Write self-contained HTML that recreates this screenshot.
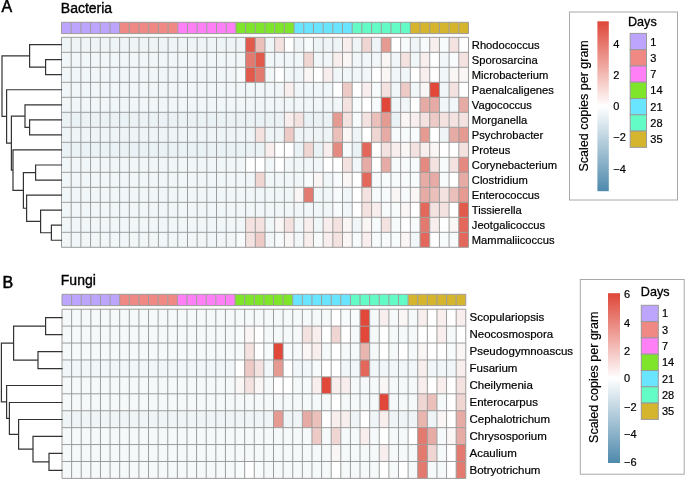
<!DOCTYPE html>
<html><head><meta charset="utf-8"><title>Heatmap</title>
<style>
html,body{margin:0;padding:0;background:#fff;}
body{width:685px;height:480px;overflow:hidden;}
svg{display:block;font-family:"Liberation Sans",sans-serif;fill:#111;will-change:transform;}
text{fill:#000;stroke:#000;stroke-width:0.2px;}
</style></head><body>
<svg width="685" height="480" viewBox="0 0 685 480">
<rect width="685" height="480" fill="#fff"/>
<text x="1.6" y="12.3" font-size="16" style="stroke-width:0.5px">A</text>
<text x="60.8" y="12.5" font-size="14" style="stroke-width:0.35px">Bacteria</text>
<rect x="61.50" y="22.30" width="9.69" height="11.30" fill="#BDA5FD"/>
<rect x="71.19" y="22.30" width="9.69" height="11.30" fill="#BDA5FD"/>
<rect x="80.88" y="22.30" width="9.69" height="11.30" fill="#BDA5FD"/>
<rect x="90.57" y="22.30" width="9.69" height="11.30" fill="#BDA5FD"/>
<rect x="100.26" y="22.30" width="9.69" height="11.30" fill="#BDA5FD"/>
<rect x="109.95" y="22.30" width="9.69" height="11.30" fill="#BDA5FD"/>
<rect x="119.64" y="22.30" width="9.69" height="11.30" fill="#F08884"/>
<rect x="129.33" y="22.30" width="9.69" height="11.30" fill="#F08884"/>
<rect x="139.02" y="22.30" width="9.69" height="11.30" fill="#F08884"/>
<rect x="148.71" y="22.30" width="9.69" height="11.30" fill="#F08884"/>
<rect x="158.40" y="22.30" width="9.69" height="11.30" fill="#F08884"/>
<rect x="168.09" y="22.30" width="9.69" height="11.30" fill="#F08884"/>
<rect x="177.78" y="22.30" width="9.69" height="11.30" fill="#FF80F6"/>
<rect x="187.47" y="22.30" width="9.69" height="11.30" fill="#FF80F6"/>
<rect x="197.16" y="22.30" width="9.69" height="11.30" fill="#FF80F6"/>
<rect x="206.85" y="22.30" width="9.69" height="11.30" fill="#FF80F6"/>
<rect x="216.54" y="22.30" width="9.69" height="11.30" fill="#FF80F6"/>
<rect x="226.23" y="22.30" width="9.69" height="11.30" fill="#FF80F6"/>
<rect x="235.92" y="22.30" width="9.69" height="11.30" fill="#7FE52B"/>
<rect x="245.61" y="22.30" width="9.69" height="11.30" fill="#7FE52B"/>
<rect x="255.30" y="22.30" width="9.69" height="11.30" fill="#7FE52B"/>
<rect x="264.99" y="22.30" width="9.69" height="11.30" fill="#7FE52B"/>
<rect x="274.68" y="22.30" width="9.69" height="11.30" fill="#7FE52B"/>
<rect x="284.37" y="22.30" width="9.69" height="11.30" fill="#7FE52B"/>
<rect x="294.06" y="22.30" width="9.69" height="11.30" fill="#69E5FF"/>
<rect x="303.75" y="22.30" width="9.69" height="11.30" fill="#69E5FF"/>
<rect x="313.44" y="22.30" width="9.69" height="11.30" fill="#69E5FF"/>
<rect x="323.13" y="22.30" width="9.69" height="11.30" fill="#69E5FF"/>
<rect x="332.82" y="22.30" width="9.69" height="11.30" fill="#69E5FF"/>
<rect x="342.51" y="22.30" width="9.69" height="11.30" fill="#69E5FF"/>
<rect x="352.20" y="22.30" width="9.69" height="11.30" fill="#63FCC6"/>
<rect x="361.89" y="22.30" width="9.69" height="11.30" fill="#63FCC6"/>
<rect x="371.58" y="22.30" width="9.69" height="11.30" fill="#63FCC6"/>
<rect x="381.27" y="22.30" width="9.69" height="11.30" fill="#63FCC6"/>
<rect x="390.96" y="22.30" width="9.69" height="11.30" fill="#63FCC6"/>
<rect x="400.65" y="22.30" width="9.69" height="11.30" fill="#63FCC6"/>
<rect x="410.34" y="22.30" width="9.69" height="11.30" fill="#D5B52D"/>
<rect x="420.03" y="22.30" width="9.69" height="11.30" fill="#D5B52D"/>
<rect x="429.72" y="22.30" width="9.69" height="11.30" fill="#D5B52D"/>
<rect x="439.41" y="22.30" width="9.69" height="11.30" fill="#D5B52D"/>
<rect x="449.10" y="22.30" width="9.69" height="11.30" fill="#D5B52D"/>
<rect x="458.79" y="22.30" width="9.69" height="11.30" fill="#D5B52D"/>
<path d="M61.50 22.30V33.60M71.19 22.30V33.60M80.88 22.30V33.60M90.57 22.30V33.60M100.26 22.30V33.60M109.95 22.30V33.60M119.64 22.30V33.60M129.33 22.30V33.60M139.02 22.30V33.60M148.71 22.30V33.60M158.40 22.30V33.60M168.09 22.30V33.60M177.78 22.30V33.60M187.47 22.30V33.60M197.16 22.30V33.60M206.85 22.30V33.60M216.54 22.30V33.60M226.23 22.30V33.60M235.92 22.30V33.60M245.61 22.30V33.60M255.30 22.30V33.60M264.99 22.30V33.60M274.68 22.30V33.60M284.37 22.30V33.60M294.06 22.30V33.60M303.75 22.30V33.60M313.44 22.30V33.60M323.13 22.30V33.60M332.82 22.30V33.60M342.51 22.30V33.60M352.20 22.30V33.60M361.89 22.30V33.60M371.58 22.30V33.60M381.27 22.30V33.60M390.96 22.30V33.60M400.65 22.30V33.60M410.34 22.30V33.60M420.03 22.30V33.60M429.72 22.30V33.60M439.41 22.30V33.60M449.10 22.30V33.60M458.79 22.30V33.60M468.48 22.30V33.60M61.50 22.30H468.48M61.50 33.60H468.48" stroke="#9C9C9C" stroke-width="1" fill="none"/>
<rect x="61.50" y="37.30" width="9.69" height="15.00" fill="#EFF5F7"/>
<rect x="71.19" y="37.30" width="9.69" height="15.00" fill="#EFF5F7"/>
<rect x="80.88" y="37.30" width="9.69" height="15.00" fill="#EFF5F7"/>
<rect x="90.57" y="37.30" width="9.69" height="15.00" fill="#EFF5F7"/>
<rect x="100.26" y="37.30" width="9.69" height="15.00" fill="#EFF5F7"/>
<rect x="109.95" y="37.30" width="9.69" height="15.00" fill="#EFF5F7"/>
<rect x="119.64" y="37.30" width="9.69" height="15.00" fill="#EFF5F7"/>
<rect x="129.33" y="37.30" width="9.69" height="15.00" fill="#EFF5F7"/>
<rect x="139.02" y="37.30" width="9.69" height="15.00" fill="#EFF5F7"/>
<rect x="148.71" y="37.30" width="9.69" height="15.00" fill="#EFF5F7"/>
<rect x="158.40" y="37.30" width="9.69" height="15.00" fill="#EFF5F7"/>
<rect x="168.09" y="37.30" width="9.69" height="15.00" fill="#EFF5F7"/>
<rect x="177.78" y="37.30" width="9.69" height="15.00" fill="#EFF5F7"/>
<rect x="187.47" y="37.30" width="9.69" height="15.00" fill="#EFF5F7"/>
<rect x="197.16" y="37.30" width="9.69" height="15.00" fill="#EFF5F7"/>
<rect x="206.85" y="37.30" width="9.69" height="15.00" fill="#EFF5F7"/>
<rect x="216.54" y="37.30" width="9.69" height="15.00" fill="#EFF5F7"/>
<rect x="226.23" y="37.30" width="9.69" height="15.00" fill="#EFF5F7"/>
<rect x="235.92" y="37.30" width="9.69" height="15.00" fill="#EFF5F7"/>
<rect x="245.61" y="37.30" width="9.69" height="15.00" fill="#E25A4C"/>
<rect x="255.30" y="37.30" width="9.69" height="15.00" fill="#EBBFBA"/>
<rect x="264.99" y="37.30" width="9.69" height="15.00" fill="#EFF5F7"/>
<rect x="274.68" y="37.30" width="9.69" height="15.00" fill="#F4E2E0"/>
<rect x="284.37" y="37.30" width="9.69" height="15.00" fill="#FFFFFF"/>
<rect x="294.06" y="37.30" width="9.69" height="15.00" fill="#EFF5F7"/>
<rect x="303.75" y="37.30" width="9.69" height="15.00" fill="#F8FBFC"/>
<rect x="313.44" y="37.30" width="9.69" height="15.00" fill="#EFF5F7"/>
<rect x="323.13" y="37.30" width="9.69" height="15.00" fill="#EFF5F7"/>
<rect x="332.82" y="37.30" width="9.69" height="15.00" fill="#EFF5F7"/>
<rect x="342.51" y="37.30" width="9.69" height="15.00" fill="#F8EEED"/>
<rect x="352.20" y="37.30" width="9.69" height="15.00" fill="#EFF5F7"/>
<rect x="361.89" y="37.30" width="9.69" height="15.00" fill="#F0D6D3"/>
<rect x="371.58" y="37.30" width="9.69" height="15.00" fill="#EFF5F7"/>
<rect x="381.27" y="37.30" width="9.69" height="15.00" fill="#E59A92"/>
<rect x="390.96" y="37.30" width="9.69" height="15.00" fill="#FFFFFF"/>
<rect x="400.65" y="37.30" width="9.69" height="15.00" fill="#F8FBFC"/>
<rect x="410.34" y="37.30" width="9.69" height="15.00" fill="#EFF5F7"/>
<rect x="420.03" y="37.30" width="9.69" height="15.00" fill="#F8FBFC"/>
<rect x="429.72" y="37.30" width="9.69" height="15.00" fill="#F8EEED"/>
<rect x="439.41" y="37.30" width="9.69" height="15.00" fill="#F8FBFC"/>
<rect x="449.10" y="37.30" width="9.69" height="15.00" fill="#F4E2E0"/>
<rect x="458.79" y="37.30" width="9.69" height="15.00" fill="#FFFFFF"/>
<rect x="61.50" y="52.30" width="9.69" height="15.00" fill="#F1F6F8"/>
<rect x="71.19" y="52.30" width="9.69" height="15.00" fill="#F1F6F8"/>
<rect x="80.88" y="52.30" width="9.69" height="15.00" fill="#F1F6F8"/>
<rect x="90.57" y="52.30" width="9.69" height="15.00" fill="#F1F6F8"/>
<rect x="100.26" y="52.30" width="9.69" height="15.00" fill="#F1F6F8"/>
<rect x="109.95" y="52.30" width="9.69" height="15.00" fill="#F1F6F8"/>
<rect x="119.64" y="52.30" width="9.69" height="15.00" fill="#F1F6F8"/>
<rect x="129.33" y="52.30" width="9.69" height="15.00" fill="#F1F6F8"/>
<rect x="139.02" y="52.30" width="9.69" height="15.00" fill="#F1F6F8"/>
<rect x="148.71" y="52.30" width="9.69" height="15.00" fill="#F1F6F8"/>
<rect x="158.40" y="52.30" width="9.69" height="15.00" fill="#F1F6F8"/>
<rect x="168.09" y="52.30" width="9.69" height="15.00" fill="#F1F6F8"/>
<rect x="177.78" y="52.30" width="9.69" height="15.00" fill="#F1F6F8"/>
<rect x="187.47" y="52.30" width="9.69" height="15.00" fill="#F1F6F8"/>
<rect x="197.16" y="52.30" width="9.69" height="15.00" fill="#F1F6F8"/>
<rect x="206.85" y="52.30" width="9.69" height="15.00" fill="#F1F6F8"/>
<rect x="216.54" y="52.30" width="9.69" height="15.00" fill="#F1F6F8"/>
<rect x="226.23" y="52.30" width="9.69" height="15.00" fill="#F1F6F8"/>
<rect x="235.92" y="52.30" width="9.69" height="15.00" fill="#F1F6F8"/>
<rect x="245.61" y="52.30" width="9.69" height="15.00" fill="#E37A70"/>
<rect x="255.30" y="52.30" width="9.69" height="15.00" fill="#E25A4C"/>
<rect x="264.99" y="52.30" width="9.69" height="15.00" fill="#F1F6F8"/>
<rect x="274.68" y="52.30" width="9.69" height="15.00" fill="#F1F6F8"/>
<rect x="284.37" y="52.30" width="9.69" height="15.00" fill="#F1F6F8"/>
<rect x="294.06" y="52.30" width="9.69" height="15.00" fill="#F1F6F8"/>
<rect x="303.75" y="52.30" width="9.69" height="15.00" fill="#F0D6D3"/>
<rect x="313.44" y="52.30" width="9.69" height="15.00" fill="#F1F6F8"/>
<rect x="323.13" y="52.30" width="9.69" height="15.00" fill="#F1F6F8"/>
<rect x="332.82" y="52.30" width="9.69" height="15.00" fill="#F8EEED"/>
<rect x="342.51" y="52.30" width="9.69" height="15.00" fill="#FBF6F6"/>
<rect x="352.20" y="52.30" width="9.69" height="15.00" fill="#F1F6F8"/>
<rect x="361.89" y="52.30" width="9.69" height="15.00" fill="#F1F6F8"/>
<rect x="371.58" y="52.30" width="9.69" height="15.00" fill="#F1F6F8"/>
<rect x="381.27" y="52.30" width="9.69" height="15.00" fill="#FBF6F6"/>
<rect x="390.96" y="52.30" width="9.69" height="15.00" fill="#F1F6F8"/>
<rect x="400.65" y="52.30" width="9.69" height="15.00" fill="#F4E2E0"/>
<rect x="410.34" y="52.30" width="9.69" height="15.00" fill="#F1F6F8"/>
<rect x="420.03" y="52.30" width="9.69" height="15.00" fill="#F8EEED"/>
<rect x="429.72" y="52.30" width="9.69" height="15.00" fill="#FFFFFF"/>
<rect x="439.41" y="52.30" width="9.69" height="15.00" fill="#F1F6F8"/>
<rect x="449.10" y="52.30" width="9.69" height="15.00" fill="#F8FBFC"/>
<rect x="458.79" y="52.30" width="9.69" height="15.00" fill="#F4E2E0"/>
<rect x="61.50" y="67.30" width="9.69" height="15.00" fill="#F1F6F8"/>
<rect x="71.19" y="67.30" width="9.69" height="15.00" fill="#F1F6F8"/>
<rect x="80.88" y="67.30" width="9.69" height="15.00" fill="#F1F6F8"/>
<rect x="90.57" y="67.30" width="9.69" height="15.00" fill="#F1F6F8"/>
<rect x="100.26" y="67.30" width="9.69" height="15.00" fill="#F1F6F8"/>
<rect x="109.95" y="67.30" width="9.69" height="15.00" fill="#F1F6F8"/>
<rect x="119.64" y="67.30" width="9.69" height="15.00" fill="#F1F6F8"/>
<rect x="129.33" y="67.30" width="9.69" height="15.00" fill="#F1F6F8"/>
<rect x="139.02" y="67.30" width="9.69" height="15.00" fill="#F1F6F8"/>
<rect x="148.71" y="67.30" width="9.69" height="15.00" fill="#F1F6F8"/>
<rect x="158.40" y="67.30" width="9.69" height="15.00" fill="#F1F6F8"/>
<rect x="168.09" y="67.30" width="9.69" height="15.00" fill="#F1F6F8"/>
<rect x="177.78" y="67.30" width="9.69" height="15.00" fill="#F1F6F8"/>
<rect x="187.47" y="67.30" width="9.69" height="15.00" fill="#F1F6F8"/>
<rect x="197.16" y="67.30" width="9.69" height="15.00" fill="#F1F6F8"/>
<rect x="206.85" y="67.30" width="9.69" height="15.00" fill="#F1F6F8"/>
<rect x="216.54" y="67.30" width="9.69" height="15.00" fill="#F1F6F8"/>
<rect x="226.23" y="67.30" width="9.69" height="15.00" fill="#F1F6F8"/>
<rect x="235.92" y="67.30" width="9.69" height="15.00" fill="#F8FBFC"/>
<rect x="245.61" y="67.30" width="9.69" height="15.00" fill="#E25A4C"/>
<rect x="255.30" y="67.30" width="9.69" height="15.00" fill="#E37A70"/>
<rect x="264.99" y="67.30" width="9.69" height="15.00" fill="#F1F6F8"/>
<rect x="274.68" y="67.30" width="9.69" height="15.00" fill="#FFFFFF"/>
<rect x="284.37" y="67.30" width="9.69" height="15.00" fill="#F1F6F8"/>
<rect x="294.06" y="67.30" width="9.69" height="15.00" fill="#F1F6F8"/>
<rect x="303.75" y="67.30" width="9.69" height="15.00" fill="#FBF6F6"/>
<rect x="313.44" y="67.30" width="9.69" height="15.00" fill="#FFFFFF"/>
<rect x="323.13" y="67.30" width="9.69" height="15.00" fill="#F8EEED"/>
<rect x="332.82" y="67.30" width="9.69" height="15.00" fill="#F1F6F8"/>
<rect x="342.51" y="67.30" width="9.69" height="15.00" fill="#F1F6F8"/>
<rect x="352.20" y="67.30" width="9.69" height="15.00" fill="#F1F6F8"/>
<rect x="361.89" y="67.30" width="9.69" height="15.00" fill="#F1F6F8"/>
<rect x="371.58" y="67.30" width="9.69" height="15.00" fill="#FFFFFF"/>
<rect x="381.27" y="67.30" width="9.69" height="15.00" fill="#FBF6F6"/>
<rect x="390.96" y="67.30" width="9.69" height="15.00" fill="#F1F6F8"/>
<rect x="400.65" y="67.30" width="9.69" height="15.00" fill="#F1F6F8"/>
<rect x="410.34" y="67.30" width="9.69" height="15.00" fill="#FFFFFF"/>
<rect x="420.03" y="67.30" width="9.69" height="15.00" fill="#F8EEED"/>
<rect x="429.72" y="67.30" width="9.69" height="15.00" fill="#FFFFFF"/>
<rect x="439.41" y="67.30" width="9.69" height="15.00" fill="#F1F6F8"/>
<rect x="449.10" y="67.30" width="9.69" height="15.00" fill="#FBF6F6"/>
<rect x="458.79" y="67.30" width="9.69" height="15.00" fill="#FBF6F6"/>
<rect x="61.50" y="82.30" width="9.69" height="15.00" fill="#F1F6F8"/>
<rect x="71.19" y="82.30" width="9.69" height="15.00" fill="#F1F6F8"/>
<rect x="80.88" y="82.30" width="9.69" height="15.00" fill="#F1F6F8"/>
<rect x="90.57" y="82.30" width="9.69" height="15.00" fill="#F1F6F8"/>
<rect x="100.26" y="82.30" width="9.69" height="15.00" fill="#F1F6F8"/>
<rect x="109.95" y="82.30" width="9.69" height="15.00" fill="#F1F6F8"/>
<rect x="119.64" y="82.30" width="9.69" height="15.00" fill="#F1F6F8"/>
<rect x="129.33" y="82.30" width="9.69" height="15.00" fill="#F1F6F8"/>
<rect x="139.02" y="82.30" width="9.69" height="15.00" fill="#F1F6F8"/>
<rect x="148.71" y="82.30" width="9.69" height="15.00" fill="#F1F6F8"/>
<rect x="158.40" y="82.30" width="9.69" height="15.00" fill="#F1F6F8"/>
<rect x="168.09" y="82.30" width="9.69" height="15.00" fill="#F1F6F8"/>
<rect x="177.78" y="82.30" width="9.69" height="15.00" fill="#F1F6F8"/>
<rect x="187.47" y="82.30" width="9.69" height="15.00" fill="#F1F6F8"/>
<rect x="197.16" y="82.30" width="9.69" height="15.00" fill="#F1F6F8"/>
<rect x="206.85" y="82.30" width="9.69" height="15.00" fill="#F1F6F8"/>
<rect x="216.54" y="82.30" width="9.69" height="15.00" fill="#F1F6F8"/>
<rect x="226.23" y="82.30" width="9.69" height="15.00" fill="#F1F6F8"/>
<rect x="235.92" y="82.30" width="9.69" height="15.00" fill="#F1F6F8"/>
<rect x="245.61" y="82.30" width="9.69" height="15.00" fill="#F1F6F8"/>
<rect x="255.30" y="82.30" width="9.69" height="15.00" fill="#F1F6F8"/>
<rect x="264.99" y="82.30" width="9.69" height="15.00" fill="#F1F6F8"/>
<rect x="274.68" y="82.30" width="9.69" height="15.00" fill="#F1F6F8"/>
<rect x="284.37" y="82.30" width="9.69" height="15.00" fill="#F8EEED"/>
<rect x="294.06" y="82.30" width="9.69" height="15.00" fill="#F1F6F8"/>
<rect x="303.75" y="82.30" width="9.69" height="15.00" fill="#F1F6F8"/>
<rect x="313.44" y="82.30" width="9.69" height="15.00" fill="#F1F6F8"/>
<rect x="323.13" y="82.30" width="9.69" height="15.00" fill="#F1F6F8"/>
<rect x="332.82" y="82.30" width="9.69" height="15.00" fill="#FFFFFF"/>
<rect x="342.51" y="82.30" width="9.69" height="15.00" fill="#EDCAC6"/>
<rect x="352.20" y="82.30" width="9.69" height="15.00" fill="#FFFFFF"/>
<rect x="361.89" y="82.30" width="9.69" height="15.00" fill="#F8EEED"/>
<rect x="371.58" y="82.30" width="9.69" height="15.00" fill="#F8FBFC"/>
<rect x="381.27" y="82.30" width="9.69" height="15.00" fill="#F4E2E0"/>
<rect x="390.96" y="82.30" width="9.69" height="15.00" fill="#F1F6F8"/>
<rect x="400.65" y="82.30" width="9.69" height="15.00" fill="#EDCAC6"/>
<rect x="410.34" y="82.30" width="9.69" height="15.00" fill="#F1F6F8"/>
<rect x="420.03" y="82.30" width="9.69" height="15.00" fill="#FBF6F6"/>
<rect x="429.72" y="82.30" width="9.69" height="15.00" fill="#E2483A"/>
<rect x="439.41" y="82.30" width="9.69" height="15.00" fill="#F1F6F8"/>
<rect x="449.10" y="82.30" width="9.69" height="15.00" fill="#F4E2E0"/>
<rect x="458.79" y="82.30" width="9.69" height="15.00" fill="#FFFFFF"/>
<rect x="61.50" y="97.30" width="9.69" height="15.00" fill="#F1F6F8"/>
<rect x="71.19" y="97.30" width="9.69" height="15.00" fill="#F1F6F8"/>
<rect x="80.88" y="97.30" width="9.69" height="15.00" fill="#F1F6F8"/>
<rect x="90.57" y="97.30" width="9.69" height="15.00" fill="#F1F6F8"/>
<rect x="100.26" y="97.30" width="9.69" height="15.00" fill="#F1F6F8"/>
<rect x="109.95" y="97.30" width="9.69" height="15.00" fill="#F1F6F8"/>
<rect x="119.64" y="97.30" width="9.69" height="15.00" fill="#F1F6F8"/>
<rect x="129.33" y="97.30" width="9.69" height="15.00" fill="#F1F6F8"/>
<rect x="139.02" y="97.30" width="9.69" height="15.00" fill="#F1F6F8"/>
<rect x="148.71" y="97.30" width="9.69" height="15.00" fill="#F1F6F8"/>
<rect x="158.40" y="97.30" width="9.69" height="15.00" fill="#F1F6F8"/>
<rect x="168.09" y="97.30" width="9.69" height="15.00" fill="#F1F6F8"/>
<rect x="177.78" y="97.30" width="9.69" height="15.00" fill="#F1F6F8"/>
<rect x="187.47" y="97.30" width="9.69" height="15.00" fill="#F1F6F8"/>
<rect x="197.16" y="97.30" width="9.69" height="15.00" fill="#F1F6F8"/>
<rect x="206.85" y="97.30" width="9.69" height="15.00" fill="#F1F6F8"/>
<rect x="216.54" y="97.30" width="9.69" height="15.00" fill="#F1F6F8"/>
<rect x="226.23" y="97.30" width="9.69" height="15.00" fill="#F1F6F8"/>
<rect x="235.92" y="97.30" width="9.69" height="15.00" fill="#F1F6F8"/>
<rect x="245.61" y="97.30" width="9.69" height="15.00" fill="#F1F6F8"/>
<rect x="255.30" y="97.30" width="9.69" height="15.00" fill="#F1F6F8"/>
<rect x="264.99" y="97.30" width="9.69" height="15.00" fill="#F1F6F8"/>
<rect x="274.68" y="97.30" width="9.69" height="15.00" fill="#F1F6F8"/>
<rect x="284.37" y="97.30" width="9.69" height="15.00" fill="#F1F6F8"/>
<rect x="294.06" y="97.30" width="9.69" height="15.00" fill="#F1F6F8"/>
<rect x="303.75" y="97.30" width="9.69" height="15.00" fill="#F1F6F8"/>
<rect x="313.44" y="97.30" width="9.69" height="15.00" fill="#F1F6F8"/>
<rect x="323.13" y="97.30" width="9.69" height="15.00" fill="#F1F6F8"/>
<rect x="332.82" y="97.30" width="9.69" height="15.00" fill="#F1F6F8"/>
<rect x="342.51" y="97.30" width="9.69" height="15.00" fill="#F4E2E0"/>
<rect x="352.20" y="97.30" width="9.69" height="15.00" fill="#F8FBFC"/>
<rect x="361.89" y="97.30" width="9.69" height="15.00" fill="#FFFFFF"/>
<rect x="371.58" y="97.30" width="9.69" height="15.00" fill="#F8FBFC"/>
<rect x="381.27" y="97.30" width="9.69" height="15.00" fill="#E2483A"/>
<rect x="390.96" y="97.30" width="9.69" height="15.00" fill="#F1F6F8"/>
<rect x="400.65" y="97.30" width="9.69" height="15.00" fill="#F1F6F8"/>
<rect x="410.34" y="97.30" width="9.69" height="15.00" fill="#FFFFFF"/>
<rect x="420.03" y="97.30" width="9.69" height="15.00" fill="#E7ABA5"/>
<rect x="429.72" y="97.30" width="9.69" height="15.00" fill="#E7ABA5"/>
<rect x="439.41" y="97.30" width="9.69" height="15.00" fill="#F1F6F8"/>
<rect x="449.10" y="97.30" width="9.69" height="15.00" fill="#F1F6F8"/>
<rect x="458.79" y="97.30" width="9.69" height="15.00" fill="#E7ABA5"/>
<rect x="61.50" y="112.30" width="9.69" height="15.00" fill="#EAF2F5"/>
<rect x="71.19" y="112.30" width="9.69" height="15.00" fill="#EAF2F5"/>
<rect x="80.88" y="112.30" width="9.69" height="15.00" fill="#EAF2F5"/>
<rect x="90.57" y="112.30" width="9.69" height="15.00" fill="#EAF2F5"/>
<rect x="100.26" y="112.30" width="9.69" height="15.00" fill="#EAF2F5"/>
<rect x="109.95" y="112.30" width="9.69" height="15.00" fill="#EAF2F5"/>
<rect x="119.64" y="112.30" width="9.69" height="15.00" fill="#EAF2F5"/>
<rect x="129.33" y="112.30" width="9.69" height="15.00" fill="#EAF2F5"/>
<rect x="139.02" y="112.30" width="9.69" height="15.00" fill="#EAF2F5"/>
<rect x="148.71" y="112.30" width="9.69" height="15.00" fill="#EAF2F5"/>
<rect x="158.40" y="112.30" width="9.69" height="15.00" fill="#EAF2F5"/>
<rect x="168.09" y="112.30" width="9.69" height="15.00" fill="#EAF2F5"/>
<rect x="177.78" y="112.30" width="9.69" height="15.00" fill="#EAF2F5"/>
<rect x="187.47" y="112.30" width="9.69" height="15.00" fill="#EAF2F5"/>
<rect x="197.16" y="112.30" width="9.69" height="15.00" fill="#EAF2F5"/>
<rect x="206.85" y="112.30" width="9.69" height="15.00" fill="#EAF2F5"/>
<rect x="216.54" y="112.30" width="9.69" height="15.00" fill="#EAF2F5"/>
<rect x="226.23" y="112.30" width="9.69" height="15.00" fill="#EAF2F5"/>
<rect x="235.92" y="112.30" width="9.69" height="15.00" fill="#EAF2F5"/>
<rect x="245.61" y="112.30" width="9.69" height="15.00" fill="#EAF2F5"/>
<rect x="255.30" y="112.30" width="9.69" height="15.00" fill="#EAF2F5"/>
<rect x="264.99" y="112.30" width="9.69" height="15.00" fill="#EAF2F5"/>
<rect x="274.68" y="112.30" width="9.69" height="15.00" fill="#EAF2F5"/>
<rect x="284.37" y="112.30" width="9.69" height="15.00" fill="#F8EEED"/>
<rect x="294.06" y="112.30" width="9.69" height="15.00" fill="#F4E2E0"/>
<rect x="303.75" y="112.30" width="9.69" height="15.00" fill="#EAF2F5"/>
<rect x="313.44" y="112.30" width="9.69" height="15.00" fill="#EAF2F5"/>
<rect x="323.13" y="112.30" width="9.69" height="15.00" fill="#EAF2F5"/>
<rect x="332.82" y="112.30" width="9.69" height="15.00" fill="#E59A92"/>
<rect x="342.51" y="112.30" width="9.69" height="15.00" fill="#F4E2E0"/>
<rect x="352.20" y="112.30" width="9.69" height="15.00" fill="#F8FBFC"/>
<rect x="361.89" y="112.30" width="9.69" height="15.00" fill="#F4E2E0"/>
<rect x="371.58" y="112.30" width="9.69" height="15.00" fill="#EBBFBA"/>
<rect x="381.27" y="112.30" width="9.69" height="15.00" fill="#E59A92"/>
<rect x="390.96" y="112.30" width="9.69" height="15.00" fill="#EAF2F5"/>
<rect x="400.65" y="112.30" width="9.69" height="15.00" fill="#FBF6F6"/>
<rect x="410.34" y="112.30" width="9.69" height="15.00" fill="#F8EEED"/>
<rect x="420.03" y="112.30" width="9.69" height="15.00" fill="#F4E2E0"/>
<rect x="429.72" y="112.30" width="9.69" height="15.00" fill="#EDCAC6"/>
<rect x="439.41" y="112.30" width="9.69" height="15.00" fill="#F4E2E0"/>
<rect x="449.10" y="112.30" width="9.69" height="15.00" fill="#F4E2E0"/>
<rect x="458.79" y="112.30" width="9.69" height="15.00" fill="#F4E2E0"/>
<rect x="61.50" y="127.30" width="9.69" height="15.00" fill="#EFF5F7"/>
<rect x="71.19" y="127.30" width="9.69" height="15.00" fill="#EFF5F7"/>
<rect x="80.88" y="127.30" width="9.69" height="15.00" fill="#EFF5F7"/>
<rect x="90.57" y="127.30" width="9.69" height="15.00" fill="#EFF5F7"/>
<rect x="100.26" y="127.30" width="9.69" height="15.00" fill="#EFF5F7"/>
<rect x="109.95" y="127.30" width="9.69" height="15.00" fill="#EFF5F7"/>
<rect x="119.64" y="127.30" width="9.69" height="15.00" fill="#EFF5F7"/>
<rect x="129.33" y="127.30" width="9.69" height="15.00" fill="#EFF5F7"/>
<rect x="139.02" y="127.30" width="9.69" height="15.00" fill="#EFF5F7"/>
<rect x="148.71" y="127.30" width="9.69" height="15.00" fill="#EFF5F7"/>
<rect x="158.40" y="127.30" width="9.69" height="15.00" fill="#EFF5F7"/>
<rect x="168.09" y="127.30" width="9.69" height="15.00" fill="#EFF5F7"/>
<rect x="177.78" y="127.30" width="9.69" height="15.00" fill="#EFF5F7"/>
<rect x="187.47" y="127.30" width="9.69" height="15.00" fill="#EFF5F7"/>
<rect x="197.16" y="127.30" width="9.69" height="15.00" fill="#EFF5F7"/>
<rect x="206.85" y="127.30" width="9.69" height="15.00" fill="#EFF5F7"/>
<rect x="216.54" y="127.30" width="9.69" height="15.00" fill="#EFF5F7"/>
<rect x="226.23" y="127.30" width="9.69" height="15.00" fill="#EFF5F7"/>
<rect x="235.92" y="127.30" width="9.69" height="15.00" fill="#EFF5F7"/>
<rect x="245.61" y="127.30" width="9.69" height="15.00" fill="#EFF5F7"/>
<rect x="255.30" y="127.30" width="9.69" height="15.00" fill="#F4E2E0"/>
<rect x="264.99" y="127.30" width="9.69" height="15.00" fill="#EFF5F7"/>
<rect x="274.68" y="127.30" width="9.69" height="15.00" fill="#EFF5F7"/>
<rect x="284.37" y="127.30" width="9.69" height="15.00" fill="#EDCAC6"/>
<rect x="294.06" y="127.30" width="9.69" height="15.00" fill="#EFF5F7"/>
<rect x="303.75" y="127.30" width="9.69" height="15.00" fill="#EFF5F7"/>
<rect x="313.44" y="127.30" width="9.69" height="15.00" fill="#EFF5F7"/>
<rect x="323.13" y="127.30" width="9.69" height="15.00" fill="#EFF5F7"/>
<rect x="332.82" y="127.30" width="9.69" height="15.00" fill="#EBBFBA"/>
<rect x="342.51" y="127.30" width="9.69" height="15.00" fill="#FBF6F6"/>
<rect x="352.20" y="127.30" width="9.69" height="15.00" fill="#EFF5F7"/>
<rect x="361.89" y="127.30" width="9.69" height="15.00" fill="#FFFFFF"/>
<rect x="371.58" y="127.30" width="9.69" height="15.00" fill="#F0D6D3"/>
<rect x="381.27" y="127.30" width="9.69" height="15.00" fill="#E7ABA5"/>
<rect x="390.96" y="127.30" width="9.69" height="15.00" fill="#F8FBFC"/>
<rect x="400.65" y="127.30" width="9.69" height="15.00" fill="#F8FBFC"/>
<rect x="410.34" y="127.30" width="9.69" height="15.00" fill="#F8FBFC"/>
<rect x="420.03" y="127.30" width="9.69" height="15.00" fill="#E59A92"/>
<rect x="429.72" y="127.30" width="9.69" height="15.00" fill="#FFFFFF"/>
<rect x="439.41" y="127.30" width="9.69" height="15.00" fill="#EFF5F7"/>
<rect x="449.10" y="127.30" width="9.69" height="15.00" fill="#E7ABA5"/>
<rect x="458.79" y="127.30" width="9.69" height="15.00" fill="#E59A92"/>
<rect x="61.50" y="142.30" width="9.69" height="15.00" fill="#EAF2F5"/>
<rect x="71.19" y="142.30" width="9.69" height="15.00" fill="#EAF2F5"/>
<rect x="80.88" y="142.30" width="9.69" height="15.00" fill="#EAF2F5"/>
<rect x="90.57" y="142.30" width="9.69" height="15.00" fill="#EAF2F5"/>
<rect x="100.26" y="142.30" width="9.69" height="15.00" fill="#EAF2F5"/>
<rect x="109.95" y="142.30" width="9.69" height="15.00" fill="#EAF2F5"/>
<rect x="119.64" y="142.30" width="9.69" height="15.00" fill="#EAF2F5"/>
<rect x="129.33" y="142.30" width="9.69" height="15.00" fill="#EAF2F5"/>
<rect x="139.02" y="142.30" width="9.69" height="15.00" fill="#EAF2F5"/>
<rect x="148.71" y="142.30" width="9.69" height="15.00" fill="#EAF2F5"/>
<rect x="158.40" y="142.30" width="9.69" height="15.00" fill="#EAF2F5"/>
<rect x="168.09" y="142.30" width="9.69" height="15.00" fill="#EAF2F5"/>
<rect x="177.78" y="142.30" width="9.69" height="15.00" fill="#EAF2F5"/>
<rect x="187.47" y="142.30" width="9.69" height="15.00" fill="#EAF2F5"/>
<rect x="197.16" y="142.30" width="9.69" height="15.00" fill="#EAF2F5"/>
<rect x="206.85" y="142.30" width="9.69" height="15.00" fill="#EAF2F5"/>
<rect x="216.54" y="142.30" width="9.69" height="15.00" fill="#EAF2F5"/>
<rect x="226.23" y="142.30" width="9.69" height="15.00" fill="#EAF2F5"/>
<rect x="235.92" y="142.30" width="9.69" height="15.00" fill="#EAF2F5"/>
<rect x="245.61" y="142.30" width="9.69" height="15.00" fill="#EAF2F5"/>
<rect x="255.30" y="142.30" width="9.69" height="15.00" fill="#EAF2F5"/>
<rect x="264.99" y="142.30" width="9.69" height="15.00" fill="#F8EEED"/>
<rect x="274.68" y="142.30" width="9.69" height="15.00" fill="#FFFFFF"/>
<rect x="284.37" y="142.30" width="9.69" height="15.00" fill="#FFFFFF"/>
<rect x="294.06" y="142.30" width="9.69" height="15.00" fill="#EAF2F5"/>
<rect x="303.75" y="142.30" width="9.69" height="15.00" fill="#F0D6D3"/>
<rect x="313.44" y="142.30" width="9.69" height="15.00" fill="#EAF2F5"/>
<rect x="323.13" y="142.30" width="9.69" height="15.00" fill="#F8EEED"/>
<rect x="332.82" y="142.30" width="9.69" height="15.00" fill="#E48A81"/>
<rect x="342.51" y="142.30" width="9.69" height="15.00" fill="#F8FBFC"/>
<rect x="352.20" y="142.30" width="9.69" height="15.00" fill="#EAF2F5"/>
<rect x="361.89" y="142.30" width="9.69" height="15.00" fill="#E3675B"/>
<rect x="371.58" y="142.30" width="9.69" height="15.00" fill="#FFFFFF"/>
<rect x="381.27" y="142.30" width="9.69" height="15.00" fill="#F4E2E0"/>
<rect x="390.96" y="142.30" width="9.69" height="15.00" fill="#F8EEED"/>
<rect x="400.65" y="142.30" width="9.69" height="15.00" fill="#FBF6F6"/>
<rect x="410.34" y="142.30" width="9.69" height="15.00" fill="#F4E2E0"/>
<rect x="420.03" y="142.30" width="9.69" height="15.00" fill="#F8EEED"/>
<rect x="429.72" y="142.30" width="9.69" height="15.00" fill="#FBF6F6"/>
<rect x="439.41" y="142.30" width="9.69" height="15.00" fill="#FFFFFF"/>
<rect x="449.10" y="142.30" width="9.69" height="15.00" fill="#FFFFFF"/>
<rect x="458.79" y="142.30" width="9.69" height="15.00" fill="#F4E2E0"/>
<rect x="61.50" y="157.30" width="9.69" height="15.00" fill="#F1F7F8"/>
<rect x="71.19" y="157.30" width="9.69" height="15.00" fill="#F1F7F8"/>
<rect x="80.88" y="157.30" width="9.69" height="15.00" fill="#F1F7F8"/>
<rect x="90.57" y="157.30" width="9.69" height="15.00" fill="#F1F7F8"/>
<rect x="100.26" y="157.30" width="9.69" height="15.00" fill="#F1F7F8"/>
<rect x="109.95" y="157.30" width="9.69" height="15.00" fill="#F1F7F8"/>
<rect x="119.64" y="157.30" width="9.69" height="15.00" fill="#F1F7F8"/>
<rect x="129.33" y="157.30" width="9.69" height="15.00" fill="#F1F7F8"/>
<rect x="139.02" y="157.30" width="9.69" height="15.00" fill="#F1F7F8"/>
<rect x="148.71" y="157.30" width="9.69" height="15.00" fill="#F1F7F8"/>
<rect x="158.40" y="157.30" width="9.69" height="15.00" fill="#F1F7F8"/>
<rect x="168.09" y="157.30" width="9.69" height="15.00" fill="#F1F7F8"/>
<rect x="177.78" y="157.30" width="9.69" height="15.00" fill="#F1F7F8"/>
<rect x="187.47" y="157.30" width="9.69" height="15.00" fill="#F1F7F8"/>
<rect x="197.16" y="157.30" width="9.69" height="15.00" fill="#F1F7F8"/>
<rect x="206.85" y="157.30" width="9.69" height="15.00" fill="#F1F7F8"/>
<rect x="216.54" y="157.30" width="9.69" height="15.00" fill="#F1F7F8"/>
<rect x="226.23" y="157.30" width="9.69" height="15.00" fill="#F1F7F8"/>
<rect x="235.92" y="157.30" width="9.69" height="15.00" fill="#F1F7F8"/>
<rect x="245.61" y="157.30" width="9.69" height="15.00" fill="#FFFFFF"/>
<rect x="255.30" y="157.30" width="9.69" height="15.00" fill="#FFFFFF"/>
<rect x="264.99" y="157.30" width="9.69" height="15.00" fill="#F1F7F8"/>
<rect x="274.68" y="157.30" width="9.69" height="15.00" fill="#FFFFFF"/>
<rect x="284.37" y="157.30" width="9.69" height="15.00" fill="#F1F7F8"/>
<rect x="294.06" y="157.30" width="9.69" height="15.00" fill="#F1F7F8"/>
<rect x="303.75" y="157.30" width="9.69" height="15.00" fill="#F1F7F8"/>
<rect x="313.44" y="157.30" width="9.69" height="15.00" fill="#F1F7F8"/>
<rect x="323.13" y="157.30" width="9.69" height="15.00" fill="#FFFFFF"/>
<rect x="332.82" y="157.30" width="9.69" height="15.00" fill="#FFFFFF"/>
<rect x="342.51" y="157.30" width="9.69" height="15.00" fill="#F4E2E0"/>
<rect x="352.20" y="157.30" width="9.69" height="15.00" fill="#F1F7F8"/>
<rect x="361.89" y="157.30" width="9.69" height="15.00" fill="#E7ABA5"/>
<rect x="371.58" y="157.30" width="9.69" height="15.00" fill="#FFFFFF"/>
<rect x="381.27" y="157.30" width="9.69" height="15.00" fill="#E7ABA5"/>
<rect x="390.96" y="157.30" width="9.69" height="15.00" fill="#F8FBFC"/>
<rect x="400.65" y="157.30" width="9.69" height="15.00" fill="#F8FBFC"/>
<rect x="410.34" y="157.30" width="9.69" height="15.00" fill="#F8FBFC"/>
<rect x="420.03" y="157.30" width="9.69" height="15.00" fill="#E48A81"/>
<rect x="429.72" y="157.30" width="9.69" height="15.00" fill="#F4E2E0"/>
<rect x="439.41" y="157.30" width="9.69" height="15.00" fill="#F8FBFC"/>
<rect x="449.10" y="157.30" width="9.69" height="15.00" fill="#F4E2E0"/>
<rect x="458.79" y="157.30" width="9.69" height="15.00" fill="#E48A81"/>
<rect x="61.50" y="172.30" width="9.69" height="15.00" fill="#F1F7F8"/>
<rect x="71.19" y="172.30" width="9.69" height="15.00" fill="#F1F7F8"/>
<rect x="80.88" y="172.30" width="9.69" height="15.00" fill="#F1F7F8"/>
<rect x="90.57" y="172.30" width="9.69" height="15.00" fill="#F1F7F8"/>
<rect x="100.26" y="172.30" width="9.69" height="15.00" fill="#F1F7F8"/>
<rect x="109.95" y="172.30" width="9.69" height="15.00" fill="#F1F7F8"/>
<rect x="119.64" y="172.30" width="9.69" height="15.00" fill="#F1F7F8"/>
<rect x="129.33" y="172.30" width="9.69" height="15.00" fill="#F1F7F8"/>
<rect x="139.02" y="172.30" width="9.69" height="15.00" fill="#F1F7F8"/>
<rect x="148.71" y="172.30" width="9.69" height="15.00" fill="#F1F7F8"/>
<rect x="158.40" y="172.30" width="9.69" height="15.00" fill="#F1F7F8"/>
<rect x="168.09" y="172.30" width="9.69" height="15.00" fill="#F1F7F8"/>
<rect x="177.78" y="172.30" width="9.69" height="15.00" fill="#F1F7F8"/>
<rect x="187.47" y="172.30" width="9.69" height="15.00" fill="#F1F7F8"/>
<rect x="197.16" y="172.30" width="9.69" height="15.00" fill="#F1F7F8"/>
<rect x="206.85" y="172.30" width="9.69" height="15.00" fill="#F1F7F8"/>
<rect x="216.54" y="172.30" width="9.69" height="15.00" fill="#F1F7F8"/>
<rect x="226.23" y="172.30" width="9.69" height="15.00" fill="#F1F7F8"/>
<rect x="235.92" y="172.30" width="9.69" height="15.00" fill="#F1F7F8"/>
<rect x="245.61" y="172.30" width="9.69" height="15.00" fill="#F1F7F8"/>
<rect x="255.30" y="172.30" width="9.69" height="15.00" fill="#F0D6D3"/>
<rect x="264.99" y="172.30" width="9.69" height="15.00" fill="#F1F7F8"/>
<rect x="274.68" y="172.30" width="9.69" height="15.00" fill="#F1F7F8"/>
<rect x="284.37" y="172.30" width="9.69" height="15.00" fill="#F1F7F8"/>
<rect x="294.06" y="172.30" width="9.69" height="15.00" fill="#F1F7F8"/>
<rect x="303.75" y="172.30" width="9.69" height="15.00" fill="#F8FBFC"/>
<rect x="313.44" y="172.30" width="9.69" height="15.00" fill="#FBF6F6"/>
<rect x="323.13" y="172.30" width="9.69" height="15.00" fill="#F1F7F8"/>
<rect x="332.82" y="172.30" width="9.69" height="15.00" fill="#F8FBFC"/>
<rect x="342.51" y="172.30" width="9.69" height="15.00" fill="#FBF6F6"/>
<rect x="352.20" y="172.30" width="9.69" height="15.00" fill="#FFFFFF"/>
<rect x="361.89" y="172.30" width="9.69" height="15.00" fill="#E3675B"/>
<rect x="371.58" y="172.30" width="9.69" height="15.00" fill="#F8FBFC"/>
<rect x="381.27" y="172.30" width="9.69" height="15.00" fill="#F8FBFC"/>
<rect x="390.96" y="172.30" width="9.69" height="15.00" fill="#F8FBFC"/>
<rect x="400.65" y="172.30" width="9.69" height="15.00" fill="#F8FBFC"/>
<rect x="410.34" y="172.30" width="9.69" height="15.00" fill="#F8FBFC"/>
<rect x="420.03" y="172.30" width="9.69" height="15.00" fill="#E7ABA5"/>
<rect x="429.72" y="172.30" width="9.69" height="15.00" fill="#E7ABA5"/>
<rect x="439.41" y="172.30" width="9.69" height="15.00" fill="#F8FBFC"/>
<rect x="449.10" y="172.30" width="9.69" height="15.00" fill="#FFFFFF"/>
<rect x="458.79" y="172.30" width="9.69" height="15.00" fill="#E7ABA5"/>
<rect x="61.50" y="187.30" width="9.69" height="15.00" fill="#F1F7F8"/>
<rect x="71.19" y="187.30" width="9.69" height="15.00" fill="#F1F7F8"/>
<rect x="80.88" y="187.30" width="9.69" height="15.00" fill="#F1F7F8"/>
<rect x="90.57" y="187.30" width="9.69" height="15.00" fill="#F1F7F8"/>
<rect x="100.26" y="187.30" width="9.69" height="15.00" fill="#F1F7F8"/>
<rect x="109.95" y="187.30" width="9.69" height="15.00" fill="#F1F7F8"/>
<rect x="119.64" y="187.30" width="9.69" height="15.00" fill="#F1F7F8"/>
<rect x="129.33" y="187.30" width="9.69" height="15.00" fill="#F1F7F8"/>
<rect x="139.02" y="187.30" width="9.69" height="15.00" fill="#F1F7F8"/>
<rect x="148.71" y="187.30" width="9.69" height="15.00" fill="#F1F7F8"/>
<rect x="158.40" y="187.30" width="9.69" height="15.00" fill="#F1F7F8"/>
<rect x="168.09" y="187.30" width="9.69" height="15.00" fill="#F1F7F8"/>
<rect x="177.78" y="187.30" width="9.69" height="15.00" fill="#F1F7F8"/>
<rect x="187.47" y="187.30" width="9.69" height="15.00" fill="#F1F7F8"/>
<rect x="197.16" y="187.30" width="9.69" height="15.00" fill="#F1F7F8"/>
<rect x="206.85" y="187.30" width="9.69" height="15.00" fill="#F1F7F8"/>
<rect x="216.54" y="187.30" width="9.69" height="15.00" fill="#F1F7F8"/>
<rect x="226.23" y="187.30" width="9.69" height="15.00" fill="#F1F7F8"/>
<rect x="235.92" y="187.30" width="9.69" height="15.00" fill="#F1F7F8"/>
<rect x="245.61" y="187.30" width="9.69" height="15.00" fill="#F1F7F8"/>
<rect x="255.30" y="187.30" width="9.69" height="15.00" fill="#F1F7F8"/>
<rect x="264.99" y="187.30" width="9.69" height="15.00" fill="#F1F7F8"/>
<rect x="274.68" y="187.30" width="9.69" height="15.00" fill="#F1F7F8"/>
<rect x="284.37" y="187.30" width="9.69" height="15.00" fill="#F1F7F8"/>
<rect x="294.06" y="187.30" width="9.69" height="15.00" fill="#FBF6F6"/>
<rect x="303.75" y="187.30" width="9.69" height="15.00" fill="#E37A70"/>
<rect x="313.44" y="187.30" width="9.69" height="15.00" fill="#F1F7F8"/>
<rect x="323.13" y="187.30" width="9.69" height="15.00" fill="#F1F7F8"/>
<rect x="332.82" y="187.30" width="9.69" height="15.00" fill="#F8FBFC"/>
<rect x="342.51" y="187.30" width="9.69" height="15.00" fill="#F1F7F8"/>
<rect x="352.20" y="187.30" width="9.69" height="15.00" fill="#FFFFFF"/>
<rect x="361.89" y="187.30" width="9.69" height="15.00" fill="#F4E2E0"/>
<rect x="371.58" y="187.30" width="9.69" height="15.00" fill="#F8FBFC"/>
<rect x="381.27" y="187.30" width="9.69" height="15.00" fill="#F8FBFC"/>
<rect x="390.96" y="187.30" width="9.69" height="15.00" fill="#FBF6F6"/>
<rect x="400.65" y="187.30" width="9.69" height="15.00" fill="#F8FBFC"/>
<rect x="410.34" y="187.30" width="9.69" height="15.00" fill="#FBF6F6"/>
<rect x="420.03" y="187.30" width="9.69" height="15.00" fill="#E7ABA5"/>
<rect x="429.72" y="187.30" width="9.69" height="15.00" fill="#EBBFBA"/>
<rect x="439.41" y="187.30" width="9.69" height="15.00" fill="#F4E2E0"/>
<rect x="449.10" y="187.30" width="9.69" height="15.00" fill="#EBBFBA"/>
<rect x="458.79" y="187.30" width="9.69" height="15.00" fill="#E59A92"/>
<rect x="61.50" y="202.30" width="9.69" height="15.00" fill="#F1F7F8"/>
<rect x="71.19" y="202.30" width="9.69" height="15.00" fill="#F1F7F8"/>
<rect x="80.88" y="202.30" width="9.69" height="15.00" fill="#F1F7F8"/>
<rect x="90.57" y="202.30" width="9.69" height="15.00" fill="#F1F7F8"/>
<rect x="100.26" y="202.30" width="9.69" height="15.00" fill="#F1F7F8"/>
<rect x="109.95" y="202.30" width="9.69" height="15.00" fill="#F1F7F8"/>
<rect x="119.64" y="202.30" width="9.69" height="15.00" fill="#F1F7F8"/>
<rect x="129.33" y="202.30" width="9.69" height="15.00" fill="#F1F7F8"/>
<rect x="139.02" y="202.30" width="9.69" height="15.00" fill="#F1F7F8"/>
<rect x="148.71" y="202.30" width="9.69" height="15.00" fill="#F1F7F8"/>
<rect x="158.40" y="202.30" width="9.69" height="15.00" fill="#F1F7F8"/>
<rect x="168.09" y="202.30" width="9.69" height="15.00" fill="#F1F7F8"/>
<rect x="177.78" y="202.30" width="9.69" height="15.00" fill="#F1F7F8"/>
<rect x="187.47" y="202.30" width="9.69" height="15.00" fill="#F1F7F8"/>
<rect x="197.16" y="202.30" width="9.69" height="15.00" fill="#F1F7F8"/>
<rect x="206.85" y="202.30" width="9.69" height="15.00" fill="#F1F7F8"/>
<rect x="216.54" y="202.30" width="9.69" height="15.00" fill="#F1F7F8"/>
<rect x="226.23" y="202.30" width="9.69" height="15.00" fill="#F1F7F8"/>
<rect x="235.92" y="202.30" width="9.69" height="15.00" fill="#F1F7F8"/>
<rect x="245.61" y="202.30" width="9.69" height="15.00" fill="#F1F7F8"/>
<rect x="255.30" y="202.30" width="9.69" height="15.00" fill="#F1F7F8"/>
<rect x="264.99" y="202.30" width="9.69" height="15.00" fill="#F1F7F8"/>
<rect x="274.68" y="202.30" width="9.69" height="15.00" fill="#F1F7F8"/>
<rect x="284.37" y="202.30" width="9.69" height="15.00" fill="#F1F7F8"/>
<rect x="294.06" y="202.30" width="9.69" height="15.00" fill="#F1F7F8"/>
<rect x="303.75" y="202.30" width="9.69" height="15.00" fill="#F1F7F8"/>
<rect x="313.44" y="202.30" width="9.69" height="15.00" fill="#F1F7F8"/>
<rect x="323.13" y="202.30" width="9.69" height="15.00" fill="#F1F7F8"/>
<rect x="332.82" y="202.30" width="9.69" height="15.00" fill="#F8FBFC"/>
<rect x="342.51" y="202.30" width="9.69" height="15.00" fill="#F1F7F8"/>
<rect x="352.20" y="202.30" width="9.69" height="15.00" fill="#FFFFFF"/>
<rect x="361.89" y="202.30" width="9.69" height="15.00" fill="#F4E2E0"/>
<rect x="371.58" y="202.30" width="9.69" height="15.00" fill="#F8EEED"/>
<rect x="381.27" y="202.30" width="9.69" height="15.00" fill="#F8FBFC"/>
<rect x="390.96" y="202.30" width="9.69" height="15.00" fill="#F8FBFC"/>
<rect x="400.65" y="202.30" width="9.69" height="15.00" fill="#FBF6F6"/>
<rect x="410.34" y="202.30" width="9.69" height="15.00" fill="#FFFFFF"/>
<rect x="420.03" y="202.30" width="9.69" height="15.00" fill="#E3675B"/>
<rect x="429.72" y="202.30" width="9.69" height="15.00" fill="#F4E2E0"/>
<rect x="439.41" y="202.30" width="9.69" height="15.00" fill="#F4E2E0"/>
<rect x="449.10" y="202.30" width="9.69" height="15.00" fill="#FFFFFF"/>
<rect x="458.79" y="202.30" width="9.69" height="15.00" fill="#E25A4C"/>
<rect x="61.50" y="217.30" width="9.69" height="15.00" fill="#F1F7F8"/>
<rect x="71.19" y="217.30" width="9.69" height="15.00" fill="#F1F7F8"/>
<rect x="80.88" y="217.30" width="9.69" height="15.00" fill="#F1F7F8"/>
<rect x="90.57" y="217.30" width="9.69" height="15.00" fill="#F1F7F8"/>
<rect x="100.26" y="217.30" width="9.69" height="15.00" fill="#F1F7F8"/>
<rect x="109.95" y="217.30" width="9.69" height="15.00" fill="#F1F7F8"/>
<rect x="119.64" y="217.30" width="9.69" height="15.00" fill="#F1F7F8"/>
<rect x="129.33" y="217.30" width="9.69" height="15.00" fill="#F1F7F8"/>
<rect x="139.02" y="217.30" width="9.69" height="15.00" fill="#F1F7F8"/>
<rect x="148.71" y="217.30" width="9.69" height="15.00" fill="#F1F7F8"/>
<rect x="158.40" y="217.30" width="9.69" height="15.00" fill="#F1F7F8"/>
<rect x="168.09" y="217.30" width="9.69" height="15.00" fill="#F1F7F8"/>
<rect x="177.78" y="217.30" width="9.69" height="15.00" fill="#F1F7F8"/>
<rect x="187.47" y="217.30" width="9.69" height="15.00" fill="#F1F7F8"/>
<rect x="197.16" y="217.30" width="9.69" height="15.00" fill="#F1F7F8"/>
<rect x="206.85" y="217.30" width="9.69" height="15.00" fill="#F1F7F8"/>
<rect x="216.54" y="217.30" width="9.69" height="15.00" fill="#F1F7F8"/>
<rect x="226.23" y="217.30" width="9.69" height="15.00" fill="#F1F7F8"/>
<rect x="235.92" y="217.30" width="9.69" height="15.00" fill="#F1F7F8"/>
<rect x="245.61" y="217.30" width="9.69" height="15.00" fill="#F4E2E0"/>
<rect x="255.30" y="217.30" width="9.69" height="15.00" fill="#F4E2E0"/>
<rect x="264.99" y="217.30" width="9.69" height="15.00" fill="#F1F7F8"/>
<rect x="274.68" y="217.30" width="9.69" height="15.00" fill="#FBF6F6"/>
<rect x="284.37" y="217.30" width="9.69" height="15.00" fill="#F4E2E0"/>
<rect x="294.06" y="217.30" width="9.69" height="15.00" fill="#F1F7F8"/>
<rect x="303.75" y="217.30" width="9.69" height="15.00" fill="#F8EEED"/>
<rect x="313.44" y="217.30" width="9.69" height="15.00" fill="#F1F7F8"/>
<rect x="323.13" y="217.30" width="9.69" height="15.00" fill="#F8EEED"/>
<rect x="332.82" y="217.30" width="9.69" height="15.00" fill="#F4E2E0"/>
<rect x="342.51" y="217.30" width="9.69" height="15.00" fill="#FBF6F6"/>
<rect x="352.20" y="217.30" width="9.69" height="15.00" fill="#F1F7F8"/>
<rect x="361.89" y="217.30" width="9.69" height="15.00" fill="#FBF6F6"/>
<rect x="371.58" y="217.30" width="9.69" height="15.00" fill="#F8FBFC"/>
<rect x="381.27" y="217.30" width="9.69" height="15.00" fill="#F4E2E0"/>
<rect x="390.96" y="217.30" width="9.69" height="15.00" fill="#F8FBFC"/>
<rect x="400.65" y="217.30" width="9.69" height="15.00" fill="#FFFFFF"/>
<rect x="410.34" y="217.30" width="9.69" height="15.00" fill="#F8FBFC"/>
<rect x="420.03" y="217.30" width="9.69" height="15.00" fill="#E37A70"/>
<rect x="429.72" y="217.30" width="9.69" height="15.00" fill="#F8EEED"/>
<rect x="439.41" y="217.30" width="9.69" height="15.00" fill="#FFFFFF"/>
<rect x="449.10" y="217.30" width="9.69" height="15.00" fill="#FBF6F6"/>
<rect x="458.79" y="217.30" width="9.69" height="15.00" fill="#E3675B"/>
<rect x="61.50" y="232.30" width="9.69" height="15.00" fill="#F1F7F8"/>
<rect x="71.19" y="232.30" width="9.69" height="15.00" fill="#F1F7F8"/>
<rect x="80.88" y="232.30" width="9.69" height="15.00" fill="#F1F7F8"/>
<rect x="90.57" y="232.30" width="9.69" height="15.00" fill="#F1F7F8"/>
<rect x="100.26" y="232.30" width="9.69" height="15.00" fill="#F1F7F8"/>
<rect x="109.95" y="232.30" width="9.69" height="15.00" fill="#F1F7F8"/>
<rect x="119.64" y="232.30" width="9.69" height="15.00" fill="#F1F7F8"/>
<rect x="129.33" y="232.30" width="9.69" height="15.00" fill="#F1F7F8"/>
<rect x="139.02" y="232.30" width="9.69" height="15.00" fill="#F1F7F8"/>
<rect x="148.71" y="232.30" width="9.69" height="15.00" fill="#F1F7F8"/>
<rect x="158.40" y="232.30" width="9.69" height="15.00" fill="#F1F7F8"/>
<rect x="168.09" y="232.30" width="9.69" height="15.00" fill="#F1F7F8"/>
<rect x="177.78" y="232.30" width="9.69" height="15.00" fill="#F1F7F8"/>
<rect x="187.47" y="232.30" width="9.69" height="15.00" fill="#F1F7F8"/>
<rect x="197.16" y="232.30" width="9.69" height="15.00" fill="#F1F7F8"/>
<rect x="206.85" y="232.30" width="9.69" height="15.00" fill="#F1F7F8"/>
<rect x="216.54" y="232.30" width="9.69" height="15.00" fill="#F1F7F8"/>
<rect x="226.23" y="232.30" width="9.69" height="15.00" fill="#F1F7F8"/>
<rect x="235.92" y="232.30" width="9.69" height="15.00" fill="#F8FBFC"/>
<rect x="245.61" y="232.30" width="9.69" height="15.00" fill="#F4E2E0"/>
<rect x="255.30" y="232.30" width="9.69" height="15.00" fill="#EDCAC6"/>
<rect x="264.99" y="232.30" width="9.69" height="15.00" fill="#F1F7F8"/>
<rect x="274.68" y="232.30" width="9.69" height="15.00" fill="#F8FBFC"/>
<rect x="284.37" y="232.30" width="9.69" height="15.00" fill="#FBF6F6"/>
<rect x="294.06" y="232.30" width="9.69" height="15.00" fill="#F1F7F8"/>
<rect x="303.75" y="232.30" width="9.69" height="15.00" fill="#F8EEED"/>
<rect x="313.44" y="232.30" width="9.69" height="15.00" fill="#F8FBFC"/>
<rect x="323.13" y="232.30" width="9.69" height="15.00" fill="#F8EEED"/>
<rect x="332.82" y="232.30" width="9.69" height="15.00" fill="#F4E2E0"/>
<rect x="342.51" y="232.30" width="9.69" height="15.00" fill="#FBF6F6"/>
<rect x="352.20" y="232.30" width="9.69" height="15.00" fill="#F8FBFC"/>
<rect x="361.89" y="232.30" width="9.69" height="15.00" fill="#F8EEED"/>
<rect x="371.58" y="232.30" width="9.69" height="15.00" fill="#F8FBFC"/>
<rect x="381.27" y="232.30" width="9.69" height="15.00" fill="#F8FBFC"/>
<rect x="390.96" y="232.30" width="9.69" height="15.00" fill="#F8FBFC"/>
<rect x="400.65" y="232.30" width="9.69" height="15.00" fill="#FBF6F6"/>
<rect x="410.34" y="232.30" width="9.69" height="15.00" fill="#F1F7F8"/>
<rect x="420.03" y="232.30" width="9.69" height="15.00" fill="#E3675B"/>
<rect x="429.72" y="232.30" width="9.69" height="15.00" fill="#FFFFFF"/>
<rect x="439.41" y="232.30" width="9.69" height="15.00" fill="#F8FBFC"/>
<rect x="449.10" y="232.30" width="9.69" height="15.00" fill="#F8FBFC"/>
<rect x="458.79" y="232.30" width="9.69" height="15.00" fill="#E3675B"/>
<path d="M61.50 37.30V247.30M71.19 37.30V247.30M80.88 37.30V247.30M90.57 37.30V247.30M100.26 37.30V247.30M109.95 37.30V247.30M119.64 37.30V247.30M129.33 37.30V247.30M139.02 37.30V247.30M148.71 37.30V247.30M158.40 37.30V247.30M168.09 37.30V247.30M177.78 37.30V247.30M187.47 37.30V247.30M197.16 37.30V247.30M206.85 37.30V247.30M216.54 37.30V247.30M226.23 37.30V247.30M235.92 37.30V247.30M245.61 37.30V247.30M255.30 37.30V247.30M264.99 37.30V247.30M274.68 37.30V247.30M284.37 37.30V247.30M294.06 37.30V247.30M303.75 37.30V247.30M313.44 37.30V247.30M323.13 37.30V247.30M332.82 37.30V247.30M342.51 37.30V247.30M352.20 37.30V247.30M361.89 37.30V247.30M371.58 37.30V247.30M381.27 37.30V247.30M390.96 37.30V247.30M400.65 37.30V247.30M410.34 37.30V247.30M420.03 37.30V247.30M429.72 37.30V247.30M439.41 37.30V247.30M449.10 37.30V247.30M458.79 37.30V247.30M468.48 37.30V247.30M61.50 37.30H468.48M61.50 52.30H468.48M61.50 67.30H468.48M61.50 82.30H468.48M61.50 97.30H468.48M61.50 112.30H468.48M61.50 127.30H468.48M61.50 142.30H468.48M61.50 157.30H468.48M61.50 172.30H468.48M61.50 187.30H468.48M61.50 202.30H468.48M61.50 217.30H468.48M61.50 232.30H468.48M61.50 247.30H468.48" stroke="#9C9C9C" stroke-width="1.00" fill="none"/>
<path d="M45.60 59.65L45.60 74.70M45.60 59.65L61.50 59.65M45.60 74.70L61.50 74.70M29.60 44.60L29.60 67.18M29.60 44.60L61.50 44.60M29.60 67.18L45.60 67.18M29.60 119.85L29.60 134.90M29.60 119.85L61.50 119.85M29.60 134.90L61.50 134.90M25.00 104.80L25.00 127.38M25.00 104.80L61.50 104.80M25.00 127.38L29.60 127.38M35.60 165.00L35.60 180.05M35.60 165.00L61.50 165.00M35.60 180.05L61.50 180.05M51.40 225.20L51.40 240.25M51.40 225.20L61.50 225.20M51.40 240.25L61.50 240.25M40.60 210.15L40.60 232.73M40.60 210.15L61.50 210.15M40.60 232.73L51.40 232.73M26.60 195.10L26.60 221.44M26.60 195.10L61.50 195.10M26.60 221.44L40.60 221.44M23.40 172.53L23.40 208.27M23.40 172.53L35.60 172.53M23.40 208.27L26.60 208.27M13.00 149.95L13.00 190.40M13.00 149.95L61.50 149.95M13.00 190.40L23.40 190.40M11.40 116.09L11.40 170.17M11.40 116.09L25.00 116.09M11.40 170.17L13.00 170.17M6.60 89.75L6.60 143.13M6.60 89.75L61.50 89.75M6.60 143.13L11.40 143.13M2.00 55.89L2.00 116.44M2.00 55.89L29.60 55.89M2.00 116.44L6.60 116.44" stroke="#333" stroke-width="1.2" fill="none" stroke-linecap="square"/>
<text x="471.80" y="48.80" font-size="11.20">Rhodococcus</text>
<text x="471.80" y="63.85" font-size="11.20">Sporosarcina</text>
<text x="471.80" y="78.90" font-size="11.20">Microbacterium</text>
<text x="471.80" y="93.95" font-size="11.20">Paenalcaligenes</text>
<text x="471.80" y="109.00" font-size="11.20">Vagococcus</text>
<text x="471.80" y="124.05" font-size="11.20">Morganella</text>
<text x="471.80" y="139.10" font-size="11.20">Psychrobacter</text>
<text x="471.80" y="154.15" font-size="11.20">Proteus</text>
<text x="471.80" y="169.20" font-size="11.20">Corynebacterium</text>
<text x="471.80" y="184.25" font-size="11.20">Clostridium</text>
<text x="471.80" y="199.30" font-size="11.20">Enterococcus</text>
<text x="471.80" y="214.35" font-size="11.20">Tissierella</text>
<text x="471.80" y="229.40" font-size="11.20">Jeotgalicoccus</text>
<text x="471.80" y="244.45" font-size="11.20">Mammaliicoccus</text>
<rect x="569.50" y="12.00" width="108.00" height="188.00" fill="#fff" stroke="#A8A8A8" stroke-width="1"/>
<defs><linearGradient id="g21" x1="0" y1="1" x2="0" y2="0"><stop offset="0" stop-color="#4E89AC"/><stop offset="0.5" stop-color="#FFFFFF"/><stop offset="1" stop-color="#DE4638"/></linearGradient></defs>
<rect x="597.40" y="21.30" width="11.40" height="169.90" fill="url(#g21)"/>
<text x="613.30" y="47.50" font-size="11">4</text>
<text x="613.30" y="78.80" font-size="11">2</text>
<text x="613.30" y="110.00" font-size="11">0</text>
<text x="613.30" y="141.30" font-size="11">−2</text>
<text x="613.30" y="172.60" font-size="11">−4</text>
<rect x="630.20" y="33.40" width="16.30" height="16.28" fill="#BDA5FD" stroke="#999" stroke-width="1"/>
<rect x="630.20" y="49.68" width="16.30" height="16.28" fill="#F08884" stroke="#999" stroke-width="1"/>
<rect x="630.20" y="65.96" width="16.30" height="16.28" fill="#FF80F6" stroke="#999" stroke-width="1"/>
<rect x="630.20" y="82.24" width="16.30" height="16.28" fill="#7FE52B" stroke="#999" stroke-width="1"/>
<rect x="630.20" y="98.52" width="16.30" height="16.28" fill="#69E5FF" stroke="#999" stroke-width="1"/>
<rect x="630.20" y="114.80" width="16.30" height="16.28" fill="#63FCC6" stroke="#999" stroke-width="1"/>
<rect x="630.20" y="131.08" width="16.30" height="16.28" fill="#D5B52D" stroke="#999" stroke-width="1"/>
<text x="650.30" y="45.54" font-size="11">1</text>
<text x="650.30" y="61.82" font-size="11">3</text>
<text x="650.30" y="78.10" font-size="11">7</text>
<text x="650.30" y="94.38" font-size="11">14</text>
<text x="650.30" y="110.66" font-size="11">21</text>
<text x="650.30" y="126.94" font-size="11">28</text>
<text x="650.30" y="143.22" font-size="11">35</text>
<text x="628.00" y="25.80" font-size="12.6" style="stroke-width:0.3px">Days</text>
<text transform="translate(588.30 105.90) rotate(-90)" font-size="12.5" text-anchor="middle">Scaled copies per gram</text>
<text x="2.4" y="288.3" font-size="16" style="stroke-width:0.5px">B</text>
<text x="60.8" y="284.8" font-size="14" style="stroke-width:0.35px">Fungi</text>
<rect x="62.00" y="294.30" width="9.61" height="11.30" fill="#BDA5FD"/>
<rect x="71.61" y="294.30" width="9.61" height="11.30" fill="#BDA5FD"/>
<rect x="81.23" y="294.30" width="9.61" height="11.30" fill="#BDA5FD"/>
<rect x="90.84" y="294.30" width="9.61" height="11.30" fill="#BDA5FD"/>
<rect x="100.46" y="294.30" width="9.61" height="11.30" fill="#BDA5FD"/>
<rect x="110.07" y="294.30" width="9.61" height="11.30" fill="#BDA5FD"/>
<rect x="119.68" y="294.30" width="9.61" height="11.30" fill="#F08884"/>
<rect x="129.30" y="294.30" width="9.61" height="11.30" fill="#F08884"/>
<rect x="138.91" y="294.30" width="9.61" height="11.30" fill="#F08884"/>
<rect x="148.53" y="294.30" width="9.61" height="11.30" fill="#F08884"/>
<rect x="158.14" y="294.30" width="9.61" height="11.30" fill="#F08884"/>
<rect x="167.75" y="294.30" width="9.61" height="11.30" fill="#F08884"/>
<rect x="177.37" y="294.30" width="9.61" height="11.30" fill="#FF80F6"/>
<rect x="186.98" y="294.30" width="9.61" height="11.30" fill="#FF80F6"/>
<rect x="196.60" y="294.30" width="9.61" height="11.30" fill="#FF80F6"/>
<rect x="206.21" y="294.30" width="9.61" height="11.30" fill="#FF80F6"/>
<rect x="215.82" y="294.30" width="9.61" height="11.30" fill="#FF80F6"/>
<rect x="225.44" y="294.30" width="9.61" height="11.30" fill="#FF80F6"/>
<rect x="235.05" y="294.30" width="9.61" height="11.30" fill="#7FE52B"/>
<rect x="244.67" y="294.30" width="9.61" height="11.30" fill="#7FE52B"/>
<rect x="254.28" y="294.30" width="9.61" height="11.30" fill="#7FE52B"/>
<rect x="263.89" y="294.30" width="9.61" height="11.30" fill="#7FE52B"/>
<rect x="273.51" y="294.30" width="9.61" height="11.30" fill="#7FE52B"/>
<rect x="283.12" y="294.30" width="9.61" height="11.30" fill="#7FE52B"/>
<rect x="292.74" y="294.30" width="9.61" height="11.30" fill="#69E5FF"/>
<rect x="302.35" y="294.30" width="9.61" height="11.30" fill="#69E5FF"/>
<rect x="311.96" y="294.30" width="9.61" height="11.30" fill="#69E5FF"/>
<rect x="321.58" y="294.30" width="9.61" height="11.30" fill="#69E5FF"/>
<rect x="331.19" y="294.30" width="9.61" height="11.30" fill="#69E5FF"/>
<rect x="340.81" y="294.30" width="9.61" height="11.30" fill="#69E5FF"/>
<rect x="350.42" y="294.30" width="9.61" height="11.30" fill="#63FCC6"/>
<rect x="360.03" y="294.30" width="9.61" height="11.30" fill="#63FCC6"/>
<rect x="369.65" y="294.30" width="9.61" height="11.30" fill="#63FCC6"/>
<rect x="379.26" y="294.30" width="9.61" height="11.30" fill="#63FCC6"/>
<rect x="388.88" y="294.30" width="9.61" height="11.30" fill="#63FCC6"/>
<rect x="398.49" y="294.30" width="9.61" height="11.30" fill="#63FCC6"/>
<rect x="408.10" y="294.30" width="9.61" height="11.30" fill="#D5B52D"/>
<rect x="417.72" y="294.30" width="9.61" height="11.30" fill="#D5B52D"/>
<rect x="427.33" y="294.30" width="9.61" height="11.30" fill="#D5B52D"/>
<rect x="436.95" y="294.30" width="9.61" height="11.30" fill="#D5B52D"/>
<rect x="446.56" y="294.30" width="9.61" height="11.30" fill="#D5B52D"/>
<rect x="456.17" y="294.30" width="9.61" height="11.30" fill="#D5B52D"/>
<path d="M62.00 294.30V305.60M71.61 294.30V305.60M81.23 294.30V305.60M90.84 294.30V305.60M100.46 294.30V305.60M110.07 294.30V305.60M119.68 294.30V305.60M129.30 294.30V305.60M138.91 294.30V305.60M148.53 294.30V305.60M158.14 294.30V305.60M167.75 294.30V305.60M177.37 294.30V305.60M186.98 294.30V305.60M196.60 294.30V305.60M206.21 294.30V305.60M215.82 294.30V305.60M225.44 294.30V305.60M235.05 294.30V305.60M244.67 294.30V305.60M254.28 294.30V305.60M263.89 294.30V305.60M273.51 294.30V305.60M283.12 294.30V305.60M292.74 294.30V305.60M302.35 294.30V305.60M311.96 294.30V305.60M321.58 294.30V305.60M331.19 294.30V305.60M340.81 294.30V305.60M350.42 294.30V305.60M360.03 294.30V305.60M369.65 294.30V305.60M379.26 294.30V305.60M388.88 294.30V305.60M398.49 294.30V305.60M408.10 294.30V305.60M417.72 294.30V305.60M427.33 294.30V305.60M436.95 294.30V305.60M446.56 294.30V305.60M456.17 294.30V305.60M465.79 294.30V305.60M62.00 294.30H465.79M62.00 305.60H465.79" stroke="#9C9C9C" stroke-width="1" fill="none"/>
<rect x="62.00" y="309.20" width="9.61" height="16.92" fill="#F5F9FA"/>
<rect x="71.61" y="309.20" width="9.61" height="16.92" fill="#F5F9FA"/>
<rect x="81.23" y="309.20" width="9.61" height="16.92" fill="#F5F9FA"/>
<rect x="90.84" y="309.20" width="9.61" height="16.92" fill="#F5F9FA"/>
<rect x="100.46" y="309.20" width="9.61" height="16.92" fill="#F5F9FA"/>
<rect x="110.07" y="309.20" width="9.61" height="16.92" fill="#F5F9FA"/>
<rect x="119.68" y="309.20" width="9.61" height="16.92" fill="#F5F9FA"/>
<rect x="129.30" y="309.20" width="9.61" height="16.92" fill="#F5F9FA"/>
<rect x="138.91" y="309.20" width="9.61" height="16.92" fill="#F5F9FA"/>
<rect x="148.53" y="309.20" width="9.61" height="16.92" fill="#F5F9FA"/>
<rect x="158.14" y="309.20" width="9.61" height="16.92" fill="#F5F9FA"/>
<rect x="167.75" y="309.20" width="9.61" height="16.92" fill="#F5F9FA"/>
<rect x="177.37" y="309.20" width="9.61" height="16.92" fill="#F5F9FA"/>
<rect x="186.98" y="309.20" width="9.61" height="16.92" fill="#F5F9FA"/>
<rect x="196.60" y="309.20" width="9.61" height="16.92" fill="#F5F9FA"/>
<rect x="206.21" y="309.20" width="9.61" height="16.92" fill="#F5F9FA"/>
<rect x="215.82" y="309.20" width="9.61" height="16.92" fill="#F5F9FA"/>
<rect x="225.44" y="309.20" width="9.61" height="16.92" fill="#F5F9FA"/>
<rect x="235.05" y="309.20" width="9.61" height="16.92" fill="#F5F9FA"/>
<rect x="244.67" y="309.20" width="9.61" height="16.92" fill="#F5F9FA"/>
<rect x="254.28" y="309.20" width="9.61" height="16.92" fill="#F5F9FA"/>
<rect x="263.89" y="309.20" width="9.61" height="16.92" fill="#F5F9FA"/>
<rect x="273.51" y="309.20" width="9.61" height="16.92" fill="#F5F9FA"/>
<rect x="283.12" y="309.20" width="9.61" height="16.92" fill="#F5F9FA"/>
<rect x="292.74" y="309.20" width="9.61" height="16.92" fill="#F5F9FA"/>
<rect x="302.35" y="309.20" width="9.61" height="16.92" fill="#F5F9FA"/>
<rect x="311.96" y="309.20" width="9.61" height="16.92" fill="#F5F9FA"/>
<rect x="321.58" y="309.20" width="9.61" height="16.92" fill="#F5F9FA"/>
<rect x="331.19" y="309.20" width="9.61" height="16.92" fill="#FFFFFF"/>
<rect x="340.81" y="309.20" width="9.61" height="16.92" fill="#F8FBFC"/>
<rect x="350.42" y="309.20" width="9.61" height="16.92" fill="#F8FBFC"/>
<rect x="360.03" y="309.20" width="9.61" height="16.92" fill="#E2483A"/>
<rect x="369.65" y="309.20" width="9.61" height="16.92" fill="#F5F9FA"/>
<rect x="379.26" y="309.20" width="9.61" height="16.92" fill="#F8EEED"/>
<rect x="388.88" y="309.20" width="9.61" height="16.92" fill="#F5F9FA"/>
<rect x="398.49" y="309.20" width="9.61" height="16.92" fill="#FBF6F6"/>
<rect x="408.10" y="309.20" width="9.61" height="16.92" fill="#F5F9FA"/>
<rect x="417.72" y="309.20" width="9.61" height="16.92" fill="#F8EEED"/>
<rect x="427.33" y="309.20" width="9.61" height="16.92" fill="#FFFFFF"/>
<rect x="436.95" y="309.20" width="9.61" height="16.92" fill="#F8EEED"/>
<rect x="446.56" y="309.20" width="9.61" height="16.92" fill="#FFFFFF"/>
<rect x="456.17" y="309.20" width="9.61" height="16.92" fill="#F8EEED"/>
<rect x="62.00" y="326.12" width="9.61" height="16.92" fill="#F5F9FA"/>
<rect x="71.61" y="326.12" width="9.61" height="16.92" fill="#F5F9FA"/>
<rect x="81.23" y="326.12" width="9.61" height="16.92" fill="#F5F9FA"/>
<rect x="90.84" y="326.12" width="9.61" height="16.92" fill="#F5F9FA"/>
<rect x="100.46" y="326.12" width="9.61" height="16.92" fill="#F5F9FA"/>
<rect x="110.07" y="326.12" width="9.61" height="16.92" fill="#F5F9FA"/>
<rect x="119.68" y="326.12" width="9.61" height="16.92" fill="#F5F9FA"/>
<rect x="129.30" y="326.12" width="9.61" height="16.92" fill="#F5F9FA"/>
<rect x="138.91" y="326.12" width="9.61" height="16.92" fill="#F5F9FA"/>
<rect x="148.53" y="326.12" width="9.61" height="16.92" fill="#F5F9FA"/>
<rect x="158.14" y="326.12" width="9.61" height="16.92" fill="#F5F9FA"/>
<rect x="167.75" y="326.12" width="9.61" height="16.92" fill="#F5F9FA"/>
<rect x="177.37" y="326.12" width="9.61" height="16.92" fill="#F5F9FA"/>
<rect x="186.98" y="326.12" width="9.61" height="16.92" fill="#F5F9FA"/>
<rect x="196.60" y="326.12" width="9.61" height="16.92" fill="#F5F9FA"/>
<rect x="206.21" y="326.12" width="9.61" height="16.92" fill="#F5F9FA"/>
<rect x="215.82" y="326.12" width="9.61" height="16.92" fill="#F5F9FA"/>
<rect x="225.44" y="326.12" width="9.61" height="16.92" fill="#F5F9FA"/>
<rect x="235.05" y="326.12" width="9.61" height="16.92" fill="#F8FBFC"/>
<rect x="244.67" y="326.12" width="9.61" height="16.92" fill="#FBF6F6"/>
<rect x="254.28" y="326.12" width="9.61" height="16.92" fill="#FFFFFF"/>
<rect x="263.89" y="326.12" width="9.61" height="16.92" fill="#F5F9FA"/>
<rect x="273.51" y="326.12" width="9.61" height="16.92" fill="#F5F9FA"/>
<rect x="283.12" y="326.12" width="9.61" height="16.92" fill="#F5F9FA"/>
<rect x="292.74" y="326.12" width="9.61" height="16.92" fill="#F5F9FA"/>
<rect x="302.35" y="326.12" width="9.61" height="16.92" fill="#F4E2E0"/>
<rect x="311.96" y="326.12" width="9.61" height="16.92" fill="#F8EEED"/>
<rect x="321.58" y="326.12" width="9.61" height="16.92" fill="#FFFFFF"/>
<rect x="331.19" y="326.12" width="9.61" height="16.92" fill="#F0D6D3"/>
<rect x="340.81" y="326.12" width="9.61" height="16.92" fill="#FFFFFF"/>
<rect x="350.42" y="326.12" width="9.61" height="16.92" fill="#F5F9FA"/>
<rect x="360.03" y="326.12" width="9.61" height="16.92" fill="#E2483A"/>
<rect x="369.65" y="326.12" width="9.61" height="16.92" fill="#F5F9FA"/>
<rect x="379.26" y="326.12" width="9.61" height="16.92" fill="#FFFFFF"/>
<rect x="388.88" y="326.12" width="9.61" height="16.92" fill="#F5F9FA"/>
<rect x="398.49" y="326.12" width="9.61" height="16.92" fill="#F5F9FA"/>
<rect x="408.10" y="326.12" width="9.61" height="16.92" fill="#F5F9FA"/>
<rect x="417.72" y="326.12" width="9.61" height="16.92" fill="#FFFFFF"/>
<rect x="427.33" y="326.12" width="9.61" height="16.92" fill="#FFFFFF"/>
<rect x="436.95" y="326.12" width="9.61" height="16.92" fill="#F8EEED"/>
<rect x="446.56" y="326.12" width="9.61" height="16.92" fill="#F5F9FA"/>
<rect x="456.17" y="326.12" width="9.61" height="16.92" fill="#FFFFFF"/>
<rect x="62.00" y="343.04" width="9.61" height="16.92" fill="#F5F9FA"/>
<rect x="71.61" y="343.04" width="9.61" height="16.92" fill="#F5F9FA"/>
<rect x="81.23" y="343.04" width="9.61" height="16.92" fill="#F5F9FA"/>
<rect x="90.84" y="343.04" width="9.61" height="16.92" fill="#F5F9FA"/>
<rect x="100.46" y="343.04" width="9.61" height="16.92" fill="#F5F9FA"/>
<rect x="110.07" y="343.04" width="9.61" height="16.92" fill="#F5F9FA"/>
<rect x="119.68" y="343.04" width="9.61" height="16.92" fill="#F5F9FA"/>
<rect x="129.30" y="343.04" width="9.61" height="16.92" fill="#F5F9FA"/>
<rect x="138.91" y="343.04" width="9.61" height="16.92" fill="#F5F9FA"/>
<rect x="148.53" y="343.04" width="9.61" height="16.92" fill="#F5F9FA"/>
<rect x="158.14" y="343.04" width="9.61" height="16.92" fill="#F5F9FA"/>
<rect x="167.75" y="343.04" width="9.61" height="16.92" fill="#F5F9FA"/>
<rect x="177.37" y="343.04" width="9.61" height="16.92" fill="#F5F9FA"/>
<rect x="186.98" y="343.04" width="9.61" height="16.92" fill="#F5F9FA"/>
<rect x="196.60" y="343.04" width="9.61" height="16.92" fill="#F5F9FA"/>
<rect x="206.21" y="343.04" width="9.61" height="16.92" fill="#F5F9FA"/>
<rect x="215.82" y="343.04" width="9.61" height="16.92" fill="#F5F9FA"/>
<rect x="225.44" y="343.04" width="9.61" height="16.92" fill="#F5F9FA"/>
<rect x="235.05" y="343.04" width="9.61" height="16.92" fill="#F5F9FA"/>
<rect x="244.67" y="343.04" width="9.61" height="16.92" fill="#F4E2E0"/>
<rect x="254.28" y="343.04" width="9.61" height="16.92" fill="#FFFFFF"/>
<rect x="263.89" y="343.04" width="9.61" height="16.92" fill="#F8FBFC"/>
<rect x="273.51" y="343.04" width="9.61" height="16.92" fill="#E2483A"/>
<rect x="283.12" y="343.04" width="9.61" height="16.92" fill="#F8FBFC"/>
<rect x="292.74" y="343.04" width="9.61" height="16.92" fill="#F5F9FA"/>
<rect x="302.35" y="343.04" width="9.61" height="16.92" fill="#FBF6F6"/>
<rect x="311.96" y="343.04" width="9.61" height="16.92" fill="#F8EEED"/>
<rect x="321.58" y="343.04" width="9.61" height="16.92" fill="#F5F9FA"/>
<rect x="331.19" y="343.04" width="9.61" height="16.92" fill="#FFFFFF"/>
<rect x="340.81" y="343.04" width="9.61" height="16.92" fill="#F5F9FA"/>
<rect x="350.42" y="343.04" width="9.61" height="16.92" fill="#F5F9FA"/>
<rect x="360.03" y="343.04" width="9.61" height="16.92" fill="#E9B5AF"/>
<rect x="369.65" y="343.04" width="9.61" height="16.92" fill="#F5F9FA"/>
<rect x="379.26" y="343.04" width="9.61" height="16.92" fill="#FFFFFF"/>
<rect x="388.88" y="343.04" width="9.61" height="16.92" fill="#F5F9FA"/>
<rect x="398.49" y="343.04" width="9.61" height="16.92" fill="#FFFFFF"/>
<rect x="408.10" y="343.04" width="9.61" height="16.92" fill="#F5F9FA"/>
<rect x="417.72" y="343.04" width="9.61" height="16.92" fill="#FBF6F6"/>
<rect x="427.33" y="343.04" width="9.61" height="16.92" fill="#FFFFFF"/>
<rect x="436.95" y="343.04" width="9.61" height="16.92" fill="#FFFFFF"/>
<rect x="446.56" y="343.04" width="9.61" height="16.92" fill="#F8FBFC"/>
<rect x="456.17" y="343.04" width="9.61" height="16.92" fill="#FBF6F6"/>
<rect x="62.00" y="359.96" width="9.61" height="16.92" fill="#F1F7F8"/>
<rect x="71.61" y="359.96" width="9.61" height="16.92" fill="#F1F7F8"/>
<rect x="81.23" y="359.96" width="9.61" height="16.92" fill="#F1F7F8"/>
<rect x="90.84" y="359.96" width="9.61" height="16.92" fill="#F1F7F8"/>
<rect x="100.46" y="359.96" width="9.61" height="16.92" fill="#F1F7F8"/>
<rect x="110.07" y="359.96" width="9.61" height="16.92" fill="#F1F7F8"/>
<rect x="119.68" y="359.96" width="9.61" height="16.92" fill="#F1F7F8"/>
<rect x="129.30" y="359.96" width="9.61" height="16.92" fill="#F1F7F8"/>
<rect x="138.91" y="359.96" width="9.61" height="16.92" fill="#F1F7F8"/>
<rect x="148.53" y="359.96" width="9.61" height="16.92" fill="#F1F7F8"/>
<rect x="158.14" y="359.96" width="9.61" height="16.92" fill="#F1F7F8"/>
<rect x="167.75" y="359.96" width="9.61" height="16.92" fill="#F1F7F8"/>
<rect x="177.37" y="359.96" width="9.61" height="16.92" fill="#F1F7F8"/>
<rect x="186.98" y="359.96" width="9.61" height="16.92" fill="#F1F7F8"/>
<rect x="196.60" y="359.96" width="9.61" height="16.92" fill="#F1F7F8"/>
<rect x="206.21" y="359.96" width="9.61" height="16.92" fill="#F1F7F8"/>
<rect x="215.82" y="359.96" width="9.61" height="16.92" fill="#F1F7F8"/>
<rect x="225.44" y="359.96" width="9.61" height="16.92" fill="#F1F7F8"/>
<rect x="235.05" y="359.96" width="9.61" height="16.92" fill="#FFFFFF"/>
<rect x="244.67" y="359.96" width="9.61" height="16.92" fill="#EDCAC6"/>
<rect x="254.28" y="359.96" width="9.61" height="16.92" fill="#F4E2E0"/>
<rect x="263.89" y="359.96" width="9.61" height="16.92" fill="#F1F7F8"/>
<rect x="273.51" y="359.96" width="9.61" height="16.92" fill="#E59A92"/>
<rect x="283.12" y="359.96" width="9.61" height="16.92" fill="#FFFFFF"/>
<rect x="292.74" y="359.96" width="9.61" height="16.92" fill="#F1F7F8"/>
<rect x="302.35" y="359.96" width="9.61" height="16.92" fill="#F1F7F8"/>
<rect x="311.96" y="359.96" width="9.61" height="16.92" fill="#F8FBFC"/>
<rect x="321.58" y="359.96" width="9.61" height="16.92" fill="#FFFFFF"/>
<rect x="331.19" y="359.96" width="9.61" height="16.92" fill="#FFFFFF"/>
<rect x="340.81" y="359.96" width="9.61" height="16.92" fill="#F1F7F8"/>
<rect x="350.42" y="359.96" width="9.61" height="16.92" fill="#F1F7F8"/>
<rect x="360.03" y="359.96" width="9.61" height="16.92" fill="#E3675B"/>
<rect x="369.65" y="359.96" width="9.61" height="16.92" fill="#F1F7F8"/>
<rect x="379.26" y="359.96" width="9.61" height="16.92" fill="#F1F7F8"/>
<rect x="388.88" y="359.96" width="9.61" height="16.92" fill="#F1F7F8"/>
<rect x="398.49" y="359.96" width="9.61" height="16.92" fill="#F1F7F8"/>
<rect x="408.10" y="359.96" width="9.61" height="16.92" fill="#F1F7F8"/>
<rect x="417.72" y="359.96" width="9.61" height="16.92" fill="#F8EEED"/>
<rect x="427.33" y="359.96" width="9.61" height="16.92" fill="#F1F7F8"/>
<rect x="436.95" y="359.96" width="9.61" height="16.92" fill="#F1F7F8"/>
<rect x="446.56" y="359.96" width="9.61" height="16.92" fill="#F1F7F8"/>
<rect x="456.17" y="359.96" width="9.61" height="16.92" fill="#F8EEED"/>
<rect x="62.00" y="376.88" width="9.61" height="16.92" fill="#F5F9FA"/>
<rect x="71.61" y="376.88" width="9.61" height="16.92" fill="#F5F9FA"/>
<rect x="81.23" y="376.88" width="9.61" height="16.92" fill="#F5F9FA"/>
<rect x="90.84" y="376.88" width="9.61" height="16.92" fill="#F5F9FA"/>
<rect x="100.46" y="376.88" width="9.61" height="16.92" fill="#F5F9FA"/>
<rect x="110.07" y="376.88" width="9.61" height="16.92" fill="#F5F9FA"/>
<rect x="119.68" y="376.88" width="9.61" height="16.92" fill="#F5F9FA"/>
<rect x="129.30" y="376.88" width="9.61" height="16.92" fill="#F5F9FA"/>
<rect x="138.91" y="376.88" width="9.61" height="16.92" fill="#F5F9FA"/>
<rect x="148.53" y="376.88" width="9.61" height="16.92" fill="#F5F9FA"/>
<rect x="158.14" y="376.88" width="9.61" height="16.92" fill="#F5F9FA"/>
<rect x="167.75" y="376.88" width="9.61" height="16.92" fill="#F5F9FA"/>
<rect x="177.37" y="376.88" width="9.61" height="16.92" fill="#F5F9FA"/>
<rect x="186.98" y="376.88" width="9.61" height="16.92" fill="#F5F9FA"/>
<rect x="196.60" y="376.88" width="9.61" height="16.92" fill="#F5F9FA"/>
<rect x="206.21" y="376.88" width="9.61" height="16.92" fill="#F5F9FA"/>
<rect x="215.82" y="376.88" width="9.61" height="16.92" fill="#F5F9FA"/>
<rect x="225.44" y="376.88" width="9.61" height="16.92" fill="#F5F9FA"/>
<rect x="235.05" y="376.88" width="9.61" height="16.92" fill="#FBF6F6"/>
<rect x="244.67" y="376.88" width="9.61" height="16.92" fill="#F4E2E0"/>
<rect x="254.28" y="376.88" width="9.61" height="16.92" fill="#FBF6F6"/>
<rect x="263.89" y="376.88" width="9.61" height="16.92" fill="#F5F9FA"/>
<rect x="273.51" y="376.88" width="9.61" height="16.92" fill="#FFFFFF"/>
<rect x="283.12" y="376.88" width="9.61" height="16.92" fill="#FFFFFF"/>
<rect x="292.74" y="376.88" width="9.61" height="16.92" fill="#F5F9FA"/>
<rect x="302.35" y="376.88" width="9.61" height="16.92" fill="#F5F9FA"/>
<rect x="311.96" y="376.88" width="9.61" height="16.92" fill="#F8EEED"/>
<rect x="321.58" y="376.88" width="9.61" height="16.92" fill="#E2483A"/>
<rect x="331.19" y="376.88" width="9.61" height="16.92" fill="#F8EEED"/>
<rect x="340.81" y="376.88" width="9.61" height="16.92" fill="#F8EEED"/>
<rect x="350.42" y="376.88" width="9.61" height="16.92" fill="#F5F9FA"/>
<rect x="360.03" y="376.88" width="9.61" height="16.92" fill="#F5F9FA"/>
<rect x="369.65" y="376.88" width="9.61" height="16.92" fill="#F5F9FA"/>
<rect x="379.26" y="376.88" width="9.61" height="16.92" fill="#FBF6F6"/>
<rect x="388.88" y="376.88" width="9.61" height="16.92" fill="#F5F9FA"/>
<rect x="398.49" y="376.88" width="9.61" height="16.92" fill="#F5F9FA"/>
<rect x="408.10" y="376.88" width="9.61" height="16.92" fill="#F5F9FA"/>
<rect x="417.72" y="376.88" width="9.61" height="16.92" fill="#F8EEED"/>
<rect x="427.33" y="376.88" width="9.61" height="16.92" fill="#FFFFFF"/>
<rect x="436.95" y="376.88" width="9.61" height="16.92" fill="#F8EEED"/>
<rect x="446.56" y="376.88" width="9.61" height="16.92" fill="#FFFFFF"/>
<rect x="456.17" y="376.88" width="9.61" height="16.92" fill="#F4E2E0"/>
<rect x="62.00" y="393.80" width="9.61" height="16.92" fill="#F5F9FA"/>
<rect x="71.61" y="393.80" width="9.61" height="16.92" fill="#F5F9FA"/>
<rect x="81.23" y="393.80" width="9.61" height="16.92" fill="#F5F9FA"/>
<rect x="90.84" y="393.80" width="9.61" height="16.92" fill="#F5F9FA"/>
<rect x="100.46" y="393.80" width="9.61" height="16.92" fill="#F5F9FA"/>
<rect x="110.07" y="393.80" width="9.61" height="16.92" fill="#F5F9FA"/>
<rect x="119.68" y="393.80" width="9.61" height="16.92" fill="#F5F9FA"/>
<rect x="129.30" y="393.80" width="9.61" height="16.92" fill="#F5F9FA"/>
<rect x="138.91" y="393.80" width="9.61" height="16.92" fill="#F5F9FA"/>
<rect x="148.53" y="393.80" width="9.61" height="16.92" fill="#F5F9FA"/>
<rect x="158.14" y="393.80" width="9.61" height="16.92" fill="#F5F9FA"/>
<rect x="167.75" y="393.80" width="9.61" height="16.92" fill="#F5F9FA"/>
<rect x="177.37" y="393.80" width="9.61" height="16.92" fill="#F5F9FA"/>
<rect x="186.98" y="393.80" width="9.61" height="16.92" fill="#F5F9FA"/>
<rect x="196.60" y="393.80" width="9.61" height="16.92" fill="#F5F9FA"/>
<rect x="206.21" y="393.80" width="9.61" height="16.92" fill="#F5F9FA"/>
<rect x="215.82" y="393.80" width="9.61" height="16.92" fill="#F5F9FA"/>
<rect x="225.44" y="393.80" width="9.61" height="16.92" fill="#F5F9FA"/>
<rect x="235.05" y="393.80" width="9.61" height="16.92" fill="#F5F9FA"/>
<rect x="244.67" y="393.80" width="9.61" height="16.92" fill="#F5F9FA"/>
<rect x="254.28" y="393.80" width="9.61" height="16.92" fill="#F5F9FA"/>
<rect x="263.89" y="393.80" width="9.61" height="16.92" fill="#F5F9FA"/>
<rect x="273.51" y="393.80" width="9.61" height="16.92" fill="#F5F9FA"/>
<rect x="283.12" y="393.80" width="9.61" height="16.92" fill="#F5F9FA"/>
<rect x="292.74" y="393.80" width="9.61" height="16.92" fill="#F5F9FA"/>
<rect x="302.35" y="393.80" width="9.61" height="16.92" fill="#F5F9FA"/>
<rect x="311.96" y="393.80" width="9.61" height="16.92" fill="#F5F9FA"/>
<rect x="321.58" y="393.80" width="9.61" height="16.92" fill="#F5F9FA"/>
<rect x="331.19" y="393.80" width="9.61" height="16.92" fill="#FFFFFF"/>
<rect x="340.81" y="393.80" width="9.61" height="16.92" fill="#F5F9FA"/>
<rect x="350.42" y="393.80" width="9.61" height="16.92" fill="#F5F9FA"/>
<rect x="360.03" y="393.80" width="9.61" height="16.92" fill="#F5F9FA"/>
<rect x="369.65" y="393.80" width="9.61" height="16.92" fill="#F5F9FA"/>
<rect x="379.26" y="393.80" width="9.61" height="16.92" fill="#E2483A"/>
<rect x="388.88" y="393.80" width="9.61" height="16.92" fill="#F5F9FA"/>
<rect x="398.49" y="393.80" width="9.61" height="16.92" fill="#F5F9FA"/>
<rect x="408.10" y="393.80" width="9.61" height="16.92" fill="#F5F9FA"/>
<rect x="417.72" y="393.80" width="9.61" height="16.92" fill="#F0D6D3"/>
<rect x="427.33" y="393.80" width="9.61" height="16.92" fill="#EBBFBA"/>
<rect x="436.95" y="393.80" width="9.61" height="16.92" fill="#F5F9FA"/>
<rect x="446.56" y="393.80" width="9.61" height="16.92" fill="#FFFFFF"/>
<rect x="456.17" y="393.80" width="9.61" height="16.92" fill="#F0D6D3"/>
<rect x="62.00" y="410.72" width="9.61" height="16.92" fill="#EFF5F7"/>
<rect x="71.61" y="410.72" width="9.61" height="16.92" fill="#EFF5F7"/>
<rect x="81.23" y="410.72" width="9.61" height="16.92" fill="#EFF5F7"/>
<rect x="90.84" y="410.72" width="9.61" height="16.92" fill="#EFF5F7"/>
<rect x="100.46" y="410.72" width="9.61" height="16.92" fill="#EFF5F7"/>
<rect x="110.07" y="410.72" width="9.61" height="16.92" fill="#EFF5F7"/>
<rect x="119.68" y="410.72" width="9.61" height="16.92" fill="#EFF5F7"/>
<rect x="129.30" y="410.72" width="9.61" height="16.92" fill="#EFF5F7"/>
<rect x="138.91" y="410.72" width="9.61" height="16.92" fill="#EFF5F7"/>
<rect x="148.53" y="410.72" width="9.61" height="16.92" fill="#EFF5F7"/>
<rect x="158.14" y="410.72" width="9.61" height="16.92" fill="#EFF5F7"/>
<rect x="167.75" y="410.72" width="9.61" height="16.92" fill="#EFF5F7"/>
<rect x="177.37" y="410.72" width="9.61" height="16.92" fill="#EFF5F7"/>
<rect x="186.98" y="410.72" width="9.61" height="16.92" fill="#EFF5F7"/>
<rect x="196.60" y="410.72" width="9.61" height="16.92" fill="#EFF5F7"/>
<rect x="206.21" y="410.72" width="9.61" height="16.92" fill="#EFF5F7"/>
<rect x="215.82" y="410.72" width="9.61" height="16.92" fill="#EFF5F7"/>
<rect x="225.44" y="410.72" width="9.61" height="16.92" fill="#EFF5F7"/>
<rect x="235.05" y="410.72" width="9.61" height="16.92" fill="#EFF5F7"/>
<rect x="244.67" y="410.72" width="9.61" height="16.92" fill="#EFF5F7"/>
<rect x="254.28" y="410.72" width="9.61" height="16.92" fill="#EFF5F7"/>
<rect x="263.89" y="410.72" width="9.61" height="16.92" fill="#EFF5F7"/>
<rect x="273.51" y="410.72" width="9.61" height="16.92" fill="#E59A92"/>
<rect x="283.12" y="410.72" width="9.61" height="16.92" fill="#EFF5F7"/>
<rect x="292.74" y="410.72" width="9.61" height="16.92" fill="#EFF5F7"/>
<rect x="302.35" y="410.72" width="9.61" height="16.92" fill="#E7ABA5"/>
<rect x="311.96" y="410.72" width="9.61" height="16.92" fill="#EBBFBA"/>
<rect x="321.58" y="410.72" width="9.61" height="16.92" fill="#FFFFFF"/>
<rect x="331.19" y="410.72" width="9.61" height="16.92" fill="#F8EEED"/>
<rect x="340.81" y="410.72" width="9.61" height="16.92" fill="#F8EEED"/>
<rect x="350.42" y="410.72" width="9.61" height="16.92" fill="#EFF5F7"/>
<rect x="360.03" y="410.72" width="9.61" height="16.92" fill="#FFFFFF"/>
<rect x="369.65" y="410.72" width="9.61" height="16.92" fill="#EFF5F7"/>
<rect x="379.26" y="410.72" width="9.61" height="16.92" fill="#F8EEED"/>
<rect x="388.88" y="410.72" width="9.61" height="16.92" fill="#EFF5F7"/>
<rect x="398.49" y="410.72" width="9.61" height="16.92" fill="#EFF5F7"/>
<rect x="408.10" y="410.72" width="9.61" height="16.92" fill="#EFF5F7"/>
<rect x="417.72" y="410.72" width="9.61" height="16.92" fill="#E9B5AF"/>
<rect x="427.33" y="410.72" width="9.61" height="16.92" fill="#EFF5F7"/>
<rect x="436.95" y="410.72" width="9.61" height="16.92" fill="#FBF6F6"/>
<rect x="446.56" y="410.72" width="9.61" height="16.92" fill="#FFFFFF"/>
<rect x="456.17" y="410.72" width="9.61" height="16.92" fill="#E7ABA5"/>
<rect x="62.00" y="427.64" width="9.61" height="16.92" fill="#F5F9FA"/>
<rect x="71.61" y="427.64" width="9.61" height="16.92" fill="#F5F9FA"/>
<rect x="81.23" y="427.64" width="9.61" height="16.92" fill="#F5F9FA"/>
<rect x="90.84" y="427.64" width="9.61" height="16.92" fill="#F5F9FA"/>
<rect x="100.46" y="427.64" width="9.61" height="16.92" fill="#F5F9FA"/>
<rect x="110.07" y="427.64" width="9.61" height="16.92" fill="#F5F9FA"/>
<rect x="119.68" y="427.64" width="9.61" height="16.92" fill="#F5F9FA"/>
<rect x="129.30" y="427.64" width="9.61" height="16.92" fill="#F5F9FA"/>
<rect x="138.91" y="427.64" width="9.61" height="16.92" fill="#F5F9FA"/>
<rect x="148.53" y="427.64" width="9.61" height="16.92" fill="#F5F9FA"/>
<rect x="158.14" y="427.64" width="9.61" height="16.92" fill="#F5F9FA"/>
<rect x="167.75" y="427.64" width="9.61" height="16.92" fill="#F5F9FA"/>
<rect x="177.37" y="427.64" width="9.61" height="16.92" fill="#F5F9FA"/>
<rect x="186.98" y="427.64" width="9.61" height="16.92" fill="#F5F9FA"/>
<rect x="196.60" y="427.64" width="9.61" height="16.92" fill="#F5F9FA"/>
<rect x="206.21" y="427.64" width="9.61" height="16.92" fill="#F5F9FA"/>
<rect x="215.82" y="427.64" width="9.61" height="16.92" fill="#F5F9FA"/>
<rect x="225.44" y="427.64" width="9.61" height="16.92" fill="#F5F9FA"/>
<rect x="235.05" y="427.64" width="9.61" height="16.92" fill="#F5F9FA"/>
<rect x="244.67" y="427.64" width="9.61" height="16.92" fill="#F5F9FA"/>
<rect x="254.28" y="427.64" width="9.61" height="16.92" fill="#F5F9FA"/>
<rect x="263.89" y="427.64" width="9.61" height="16.92" fill="#F5F9FA"/>
<rect x="273.51" y="427.64" width="9.61" height="16.92" fill="#F5F9FA"/>
<rect x="283.12" y="427.64" width="9.61" height="16.92" fill="#F5F9FA"/>
<rect x="292.74" y="427.64" width="9.61" height="16.92" fill="#F5F9FA"/>
<rect x="302.35" y="427.64" width="9.61" height="16.92" fill="#F5F9FA"/>
<rect x="311.96" y="427.64" width="9.61" height="16.92" fill="#EDCAC6"/>
<rect x="321.58" y="427.64" width="9.61" height="16.92" fill="#F5F9FA"/>
<rect x="331.19" y="427.64" width="9.61" height="16.92" fill="#F0D6D3"/>
<rect x="340.81" y="427.64" width="9.61" height="16.92" fill="#F5F9FA"/>
<rect x="350.42" y="427.64" width="9.61" height="16.92" fill="#F5F9FA"/>
<rect x="360.03" y="427.64" width="9.61" height="16.92" fill="#F8EEED"/>
<rect x="369.65" y="427.64" width="9.61" height="16.92" fill="#F5F9FA"/>
<rect x="379.26" y="427.64" width="9.61" height="16.92" fill="#FFFFFF"/>
<rect x="388.88" y="427.64" width="9.61" height="16.92" fill="#F5F9FA"/>
<rect x="398.49" y="427.64" width="9.61" height="16.92" fill="#F5F9FA"/>
<rect x="408.10" y="427.64" width="9.61" height="16.92" fill="#FFFFFF"/>
<rect x="417.72" y="427.64" width="9.61" height="16.92" fill="#E37A70"/>
<rect x="427.33" y="427.64" width="9.61" height="16.92" fill="#E7ABA5"/>
<rect x="436.95" y="427.64" width="9.61" height="16.92" fill="#F5F9FA"/>
<rect x="446.56" y="427.64" width="9.61" height="16.92" fill="#FBF6F6"/>
<rect x="456.17" y="427.64" width="9.61" height="16.92" fill="#E7ABA5"/>
<rect x="62.00" y="444.56" width="9.61" height="16.92" fill="#F5F9FA"/>
<rect x="71.61" y="444.56" width="9.61" height="16.92" fill="#F5F9FA"/>
<rect x="81.23" y="444.56" width="9.61" height="16.92" fill="#F5F9FA"/>
<rect x="90.84" y="444.56" width="9.61" height="16.92" fill="#F5F9FA"/>
<rect x="100.46" y="444.56" width="9.61" height="16.92" fill="#F5F9FA"/>
<rect x="110.07" y="444.56" width="9.61" height="16.92" fill="#F5F9FA"/>
<rect x="119.68" y="444.56" width="9.61" height="16.92" fill="#F5F9FA"/>
<rect x="129.30" y="444.56" width="9.61" height="16.92" fill="#F5F9FA"/>
<rect x="138.91" y="444.56" width="9.61" height="16.92" fill="#F5F9FA"/>
<rect x="148.53" y="444.56" width="9.61" height="16.92" fill="#F5F9FA"/>
<rect x="158.14" y="444.56" width="9.61" height="16.92" fill="#F5F9FA"/>
<rect x="167.75" y="444.56" width="9.61" height="16.92" fill="#F5F9FA"/>
<rect x="177.37" y="444.56" width="9.61" height="16.92" fill="#F5F9FA"/>
<rect x="186.98" y="444.56" width="9.61" height="16.92" fill="#F5F9FA"/>
<rect x="196.60" y="444.56" width="9.61" height="16.92" fill="#F5F9FA"/>
<rect x="206.21" y="444.56" width="9.61" height="16.92" fill="#F5F9FA"/>
<rect x="215.82" y="444.56" width="9.61" height="16.92" fill="#F5F9FA"/>
<rect x="225.44" y="444.56" width="9.61" height="16.92" fill="#F5F9FA"/>
<rect x="235.05" y="444.56" width="9.61" height="16.92" fill="#F5F9FA"/>
<rect x="244.67" y="444.56" width="9.61" height="16.92" fill="#F5F9FA"/>
<rect x="254.28" y="444.56" width="9.61" height="16.92" fill="#F5F9FA"/>
<rect x="263.89" y="444.56" width="9.61" height="16.92" fill="#F5F9FA"/>
<rect x="273.51" y="444.56" width="9.61" height="16.92" fill="#F5F9FA"/>
<rect x="283.12" y="444.56" width="9.61" height="16.92" fill="#F5F9FA"/>
<rect x="292.74" y="444.56" width="9.61" height="16.92" fill="#F5F9FA"/>
<rect x="302.35" y="444.56" width="9.61" height="16.92" fill="#F5F9FA"/>
<rect x="311.96" y="444.56" width="9.61" height="16.92" fill="#F5F9FA"/>
<rect x="321.58" y="444.56" width="9.61" height="16.92" fill="#F5F9FA"/>
<rect x="331.19" y="444.56" width="9.61" height="16.92" fill="#FBF6F6"/>
<rect x="340.81" y="444.56" width="9.61" height="16.92" fill="#F5F9FA"/>
<rect x="350.42" y="444.56" width="9.61" height="16.92" fill="#F5F9FA"/>
<rect x="360.03" y="444.56" width="9.61" height="16.92" fill="#F5F9FA"/>
<rect x="369.65" y="444.56" width="9.61" height="16.92" fill="#F5F9FA"/>
<rect x="379.26" y="444.56" width="9.61" height="16.92" fill="#F8EEED"/>
<rect x="388.88" y="444.56" width="9.61" height="16.92" fill="#F5F9FA"/>
<rect x="398.49" y="444.56" width="9.61" height="16.92" fill="#F5F9FA"/>
<rect x="408.10" y="444.56" width="9.61" height="16.92" fill="#F5F9FA"/>
<rect x="417.72" y="444.56" width="9.61" height="16.92" fill="#E37A70"/>
<rect x="427.33" y="444.56" width="9.61" height="16.92" fill="#F0D6D3"/>
<rect x="436.95" y="444.56" width="9.61" height="16.92" fill="#F5F9FA"/>
<rect x="446.56" y="444.56" width="9.61" height="16.92" fill="#FFFFFF"/>
<rect x="456.17" y="444.56" width="9.61" height="16.92" fill="#E37A70"/>
<rect x="62.00" y="461.48" width="9.61" height="16.92" fill="#F5F9FA"/>
<rect x="71.61" y="461.48" width="9.61" height="16.92" fill="#F5F9FA"/>
<rect x="81.23" y="461.48" width="9.61" height="16.92" fill="#F5F9FA"/>
<rect x="90.84" y="461.48" width="9.61" height="16.92" fill="#F5F9FA"/>
<rect x="100.46" y="461.48" width="9.61" height="16.92" fill="#F5F9FA"/>
<rect x="110.07" y="461.48" width="9.61" height="16.92" fill="#F5F9FA"/>
<rect x="119.68" y="461.48" width="9.61" height="16.92" fill="#F5F9FA"/>
<rect x="129.30" y="461.48" width="9.61" height="16.92" fill="#F5F9FA"/>
<rect x="138.91" y="461.48" width="9.61" height="16.92" fill="#F5F9FA"/>
<rect x="148.53" y="461.48" width="9.61" height="16.92" fill="#F5F9FA"/>
<rect x="158.14" y="461.48" width="9.61" height="16.92" fill="#F5F9FA"/>
<rect x="167.75" y="461.48" width="9.61" height="16.92" fill="#F5F9FA"/>
<rect x="177.37" y="461.48" width="9.61" height="16.92" fill="#F5F9FA"/>
<rect x="186.98" y="461.48" width="9.61" height="16.92" fill="#F5F9FA"/>
<rect x="196.60" y="461.48" width="9.61" height="16.92" fill="#F5F9FA"/>
<rect x="206.21" y="461.48" width="9.61" height="16.92" fill="#F5F9FA"/>
<rect x="215.82" y="461.48" width="9.61" height="16.92" fill="#F5F9FA"/>
<rect x="225.44" y="461.48" width="9.61" height="16.92" fill="#F5F9FA"/>
<rect x="235.05" y="461.48" width="9.61" height="16.92" fill="#F8FBFC"/>
<rect x="244.67" y="461.48" width="9.61" height="16.92" fill="#FFFFFF"/>
<rect x="254.28" y="461.48" width="9.61" height="16.92" fill="#F8FBFC"/>
<rect x="263.89" y="461.48" width="9.61" height="16.92" fill="#F5F9FA"/>
<rect x="273.51" y="461.48" width="9.61" height="16.92" fill="#F5F9FA"/>
<rect x="283.12" y="461.48" width="9.61" height="16.92" fill="#F5F9FA"/>
<rect x="292.74" y="461.48" width="9.61" height="16.92" fill="#F5F9FA"/>
<rect x="302.35" y="461.48" width="9.61" height="16.92" fill="#F5F9FA"/>
<rect x="311.96" y="461.48" width="9.61" height="16.92" fill="#F5F9FA"/>
<rect x="321.58" y="461.48" width="9.61" height="16.92" fill="#F5F9FA"/>
<rect x="331.19" y="461.48" width="9.61" height="16.92" fill="#FFFFFF"/>
<rect x="340.81" y="461.48" width="9.61" height="16.92" fill="#F5F9FA"/>
<rect x="350.42" y="461.48" width="9.61" height="16.92" fill="#F5F9FA"/>
<rect x="360.03" y="461.48" width="9.61" height="16.92" fill="#F5F9FA"/>
<rect x="369.65" y="461.48" width="9.61" height="16.92" fill="#F5F9FA"/>
<rect x="379.26" y="461.48" width="9.61" height="16.92" fill="#FFFFFF"/>
<rect x="388.88" y="461.48" width="9.61" height="16.92" fill="#F5F9FA"/>
<rect x="398.49" y="461.48" width="9.61" height="16.92" fill="#FFFFFF"/>
<rect x="408.10" y="461.48" width="9.61" height="16.92" fill="#F5F9FA"/>
<rect x="417.72" y="461.48" width="9.61" height="16.92" fill="#E37A70"/>
<rect x="427.33" y="461.48" width="9.61" height="16.92" fill="#F5F9FA"/>
<rect x="436.95" y="461.48" width="9.61" height="16.92" fill="#F5F9FA"/>
<rect x="446.56" y="461.48" width="9.61" height="16.92" fill="#FFFFFF"/>
<rect x="456.17" y="461.48" width="9.61" height="16.92" fill="#E37A70"/>
<path d="M62.00 309.20V478.40M71.61 309.20V478.40M81.23 309.20V478.40M90.84 309.20V478.40M100.46 309.20V478.40M110.07 309.20V478.40M119.68 309.20V478.40M129.30 309.20V478.40M138.91 309.20V478.40M148.53 309.20V478.40M158.14 309.20V478.40M167.75 309.20V478.40M177.37 309.20V478.40M186.98 309.20V478.40M196.60 309.20V478.40M206.21 309.20V478.40M215.82 309.20V478.40M225.44 309.20V478.40M235.05 309.20V478.40M244.67 309.20V478.40M254.28 309.20V478.40M263.89 309.20V478.40M273.51 309.20V478.40M283.12 309.20V478.40M292.74 309.20V478.40M302.35 309.20V478.40M311.96 309.20V478.40M321.58 309.20V478.40M331.19 309.20V478.40M340.81 309.20V478.40M350.42 309.20V478.40M360.03 309.20V478.40M369.65 309.20V478.40M379.26 309.20V478.40M388.88 309.20V478.40M398.49 309.20V478.40M408.10 309.20V478.40M417.72 309.20V478.40M427.33 309.20V478.40M436.95 309.20V478.40M446.56 309.20V478.40M456.17 309.20V478.40M465.79 309.20V478.40M62.00 309.20H465.79M62.00 326.12H465.79M62.00 343.04H465.79M62.00 359.96H465.79M62.00 376.88H465.79M62.00 393.80H465.79M62.00 410.72H465.79M62.00 427.64H465.79M62.00 444.56H465.79M62.00 461.48H465.79M62.00 478.40H465.79" stroke="#9C9C9C" stroke-width="1.00" fill="none"/>
<path d="M45.60 317.60L45.60 334.58M45.60 317.60L62.00 317.60M45.60 334.58L62.00 334.58M38.00 351.56L38.00 368.54M38.00 351.56L62.00 351.56M38.00 368.54L62.00 368.54M13.60 326.09L13.60 360.05M13.60 326.09L45.60 326.09M13.60 360.05L38.00 360.05M49.00 453.44L49.00 470.42M49.00 453.44L62.00 453.44M49.00 470.42L62.00 470.42M33.00 436.46L33.00 461.93M33.00 436.46L62.00 436.46M33.00 461.93L49.00 461.93M18.60 419.48L18.60 449.20M18.60 419.48L62.00 419.48M18.60 449.20L33.00 449.20M9.40 402.50L9.40 434.34M9.40 402.50L62.00 402.50M9.40 434.34L18.60 434.34M6.60 385.52L6.60 418.42M6.60 385.52L62.00 385.52M6.60 418.42L9.40 418.42M1.40 343.07L1.40 401.97M1.40 343.07L13.60 343.07M1.40 401.97L6.60 401.97" stroke="#333" stroke-width="1.2" fill="none" stroke-linecap="square"/>
<text x="469.50" y="321.35" font-size="11.50">Scopulariopsis</text>
<text x="469.50" y="338.33" font-size="11.50">Neocosmospora</text>
<text x="469.50" y="355.31" font-size="11.50">Pseudogymnoascus</text>
<text x="469.50" y="372.29" font-size="11.50">Fusarium</text>
<text x="469.50" y="389.27" font-size="11.50">Cheilymenia</text>
<text x="469.50" y="406.25" font-size="11.50">Enterocarpus</text>
<text x="469.50" y="423.23" font-size="11.50">Cephalotrichum</text>
<text x="469.50" y="440.21" font-size="11.50">Chrysosporium</text>
<text x="469.50" y="457.19" font-size="11.50">Acaulium</text>
<text x="469.50" y="474.17" font-size="11.50">Botryotrichum</text>
<rect x="580.30" y="279.50" width="103.90" height="194.70" fill="#fff" stroke="#A8A8A8" stroke-width="1"/>
<defs><linearGradient id="g293" x1="0" y1="1" x2="0" y2="0"><stop offset="0" stop-color="#4E89AC"/><stop offset="0.5" stop-color="#FFFFFF"/><stop offset="1" stop-color="#DE4638"/></linearGradient></defs>
<rect x="608.00" y="293.20" width="12.00" height="169.80" fill="url(#g293)"/>
<text x="624.00" y="298.20" font-size="11">6</text>
<text x="624.00" y="326.70" font-size="11">4</text>
<text x="624.00" y="355.00" font-size="11">2</text>
<text x="624.00" y="382.00" font-size="11">0</text>
<text x="624.00" y="410.50" font-size="11">−2</text>
<text x="624.00" y="438.00" font-size="11">−4</text>
<text x="624.00" y="465.80" font-size="11">−6</text>
<rect x="641.30" y="305.30" width="17.00" height="16.30" fill="#BDA5FD" stroke="#999" stroke-width="1"/>
<rect x="641.30" y="321.60" width="17.00" height="16.30" fill="#F08884" stroke="#999" stroke-width="1"/>
<rect x="641.30" y="337.90" width="17.00" height="16.30" fill="#FF80F6" stroke="#999" stroke-width="1"/>
<rect x="641.30" y="354.20" width="17.00" height="16.30" fill="#7FE52B" stroke="#999" stroke-width="1"/>
<rect x="641.30" y="370.50" width="17.00" height="16.30" fill="#69E5FF" stroke="#999" stroke-width="1"/>
<rect x="641.30" y="386.80" width="17.00" height="16.30" fill="#63FCC6" stroke="#999" stroke-width="1"/>
<rect x="641.30" y="403.10" width="17.00" height="16.30" fill="#D5B52D" stroke="#999" stroke-width="1"/>
<text x="662.00" y="317.45" font-size="11">1</text>
<text x="662.00" y="333.75" font-size="11">3</text>
<text x="662.00" y="350.05" font-size="11">7</text>
<text x="662.00" y="366.35" font-size="11">14</text>
<text x="662.00" y="382.65" font-size="11">21</text>
<text x="662.00" y="398.95" font-size="11">28</text>
<text x="662.00" y="415.25" font-size="11">35</text>
<text x="640.80" y="295.70" font-size="12.6" style="stroke-width:0.3px">Days</text>
<text transform="translate(598.20 377.30) rotate(-90)" font-size="12.5" text-anchor="middle">Scaled copies per gram</text>
</svg>
</body></html>
